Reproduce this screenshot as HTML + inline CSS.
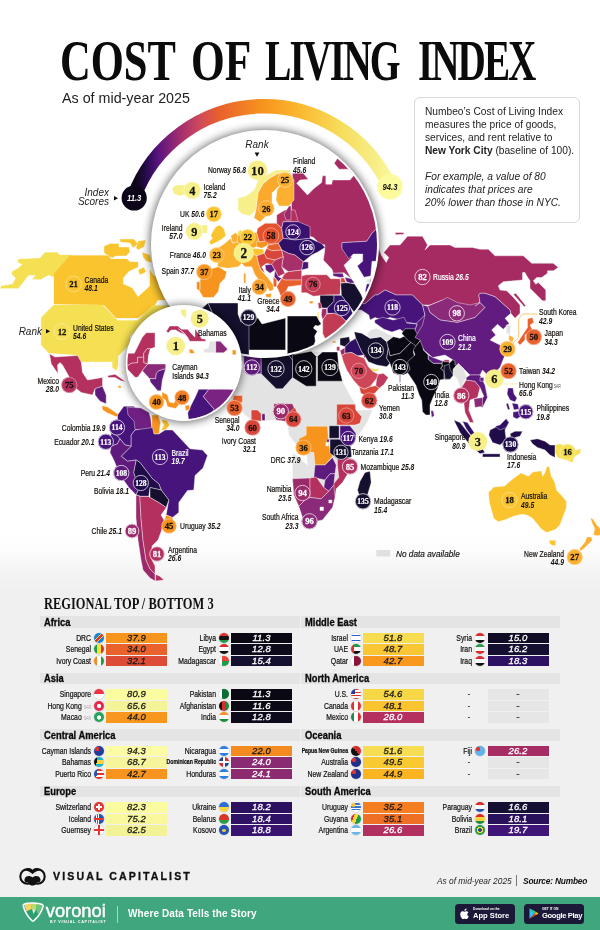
<!DOCTYPE html>
<html lang="en"><head><meta charset="utf-8"><title>Cost of Living Index</title>
<style>
html,body{margin:0;padding:0;}
body{width:600px;height:930px;overflow:hidden;background:#fff;font-family:"Liberation Sans",sans-serif;color:#111;}
#page{position:relative;width:600px;height:930px;overflow:hidden;background:linear-gradient(180deg,#ffffff 0px,#ffffff 530px,#fcfcfc 552px,#f4f4f4 572px,#f0f0f0 592px,#f0f0f0 930px);}
.abs{position:absolute;}
#title{position:absolute;left:0;top:29px;width:600px;height:64px;font-family:"Liberation Serif",serif;font-weight:bold;font-size:56px;line-height:64px;color:#0b0b0b;}
.tw{position:absolute;top:0;white-space:nowrap;transform-origin:0 0;display:block;}
#subtitle{position:absolute;left:62px;top:88.5px;font-size:14.3px;line-height:18px;color:#222;white-space:nowrap;}
#info{position:absolute;left:414px;top:97px;width:165.5px;height:125.5px;border:1px solid #d9d9d9;border-radius:6px;background:#fff;box-sizing:border-box;}
#info p{margin:0;position:absolute;left:10px;font-size:10.2px;line-height:13.2px;color:#222;white-space:nowrap;}
#tabletitle{position:absolute;left:44px;top:594px;font-family:"Liberation Serif",serif;font-weight:bold;font-size:16.5px;line-height:20px;white-space:nowrap;transform-origin:0 0;transform:scaleX(0.755);color:#111;}
.ghead{position:absolute;height:11.5px;background:#e4e4e4;}
.ghead span{position:absolute;left:4px;top:-0.2px;font-weight:bold;font-size:10.4px;line-height:13px;white-space:nowrap;color:#0a0a0a;-webkit-text-stroke:0.3px #0a0a0a;transform-origin:0 50%;transform:scaleX(0.9);}
.lab{position:absolute;height:10.5px;line-height:10.5px;font-size:8.8px;text-align:right;white-space:nowrap;color:#111;-webkit-text-stroke:0.22px #111;transform-origin:100% 50%;transform:scaleX(0.78);}
.lab.tiny{font-size:6.6px;font-weight:bold;}
.lab small{font-size:4.6px;color:#aaa;-webkit-text-stroke:0;}
.flag{position:absolute;width:10px;height:10px;border-radius:50%;box-shadow:0 0 0 0.5px rgba(0,0,0,0.15);}
.bar{position:absolute;height:10.5px;line-height:10.7px;font-size:9.5px;font-style:italic;font-weight:normal;text-align:center;-webkit-text-stroke:0.3px currentColor;letter-spacing:0.1px;}
#vc{position:absolute;left:53px;top:869px;font-weight:bold;font-size:10.6px;line-height:14px;letter-spacing:2.1px;-webkit-text-stroke:0.3px #111;white-space:nowrap;color:#111;}
#asof{position:absolute;left:437px;top:874px;font-size:8.35px;line-height:14px;white-space:nowrap;color:#222;}
#source{position:absolute;left:523px;top:874px;font-size:8.4px;line-height:14px;white-space:nowrap;color:#111;letter-spacing:-0.2px;}
#green{position:absolute;left:0;top:897px;width:600px;height:33px;background:#3fa67d;}
#voronoi{position:absolute;left:45.8px;top:898.8px;font-size:18.3px;line-height:24px;color:#fff;letter-spacing:0px;-webkit-text-stroke:0.45px #fff;white-space:nowrap;}
#byvc{position:absolute;left:50px;top:919px;font-size:3.7px;line-height:6px;font-weight:bold;color:#fff;letter-spacing:0.72px;white-space:nowrap;}
#tagline{position:absolute;left:128px;top:907px;font-size:10px;line-height:14px;font-weight:bold;color:#fff;white-space:nowrap;letter-spacing:0.1px;}
.badge{position:absolute;top:904px;height:19.5px;background:#1b1937;border-radius:3.5px;color:#fff;}
.badge .b1{position:absolute;top:2.6px;font-size:3.3px;line-height:5px;font-weight:bold;white-space:nowrap;}
.badge .b2{position:absolute;top:6.4px;font-size:7.6px;line-height:11px;font-weight:bold;white-space:nowrap;}

</style></head>
<body>
<div id="page">
<div id="title"><span class="tw" style="left:60.1px;transform:scaleX(0.76)">COST</span><span class="tw" style="left:191.3px;transform:scaleX(0.775)">OF</span><span class="tw" style="left:265.2px;transform:scaleX(0.707);letter-spacing:-2.7px">LIVING</span><span class="tw" style="left:417.5px;transform:scaleX(0.70);letter-spacing:-2.85px">INDEX</span></div>
<div id="subtitle">As of mid-year 2025</div>
<div id="info">
<p style="top:6.6px">Numbeo’s Cost of Living Index<br>measures the price of goods,<br>services, and rent relative to<br><b>New York City</b> (baseline of 100).</p>
<p style="top:72px"><i>For example, a value of 80<br>indicates that prices are<br>20% lower than those in NYC.</i></p>
</div>

<svg class="abs" id="map" style="left:0;top:0" width="600" height="600" viewBox="0 0 600 600">
<defs>
<linearGradient id="arcg" x1="128" y1="0" x2="396" y2="0" gradientUnits="userSpaceOnUse"><stop offset="0.03" stop-color="#0c0618"/><stop offset="0.07" stop-color="#2a0b50"/><stop offset="0.115" stop-color="#5b1580"/><stop offset="0.19" stop-color="#a02c70"/><stop offset="0.27" stop-color="#d04a5a"/><stop offset="0.34" stop-color="#e8602c"/><stop offset="0.5" stop-color="#f7931e"/><stop offset="0.64" stop-color="#fbb830"/><stop offset="0.79" stop-color="#f6dc5a"/><stop offset="0.925" stop-color="#f7ee88"/><stop offset="1" stop-color="#fbfb9e"/></linearGradient>
<clipPath id="clipE"><circle cx="265" cy="244" r="112"/></clipPath>
<clipPath id="clipC"><circle cx="183.75" cy="363" r="56.3"/></clipPath>
<filter id="sh" x="-30%" y="-30%" width="160%" height="160%"><feGaussianBlur stdDeviation="4.5"/></filter>
</defs>
<g stroke="#fff" stroke-width="0.4" stroke-linejoin="round">
<polygon points="0.8,286.3 12.5,284.2 15.8,278.3 11.7,273.7 12.5,271.3 18.3,268.3 22.5,264.2 18.3,262.5 18.3,259.2 40,258.3 45,252.5 57.5,252.5 59.7,255 71.7,255 54.2,276.7 48.3,275 40.8,279.2 32.5,279.2 35.8,275 28.3,275.3 23.3,282 18.3,288.3 0.8,288.3" fill="#f5df52" stroke="#f5df52" stroke-width="0.3"/>
<polygon points="54,274 70,255.6 110,255.6 110,259 127,259 130,262 138,262 138,267 129,271 123,278 123,284 132,288 138,297 150,286 150,270 154,276 178,276 178,300 158,300 154,306 138,318 116,318 104,305 54,304" fill="#f9c42e" stroke="#f9c42e" stroke-width="0.3"/>
<polygon points="104,246 110,243.6 119,243.6 119,247 129,247 130,252 126,256 116,256 112,258 104,253" fill="#f9c42e"/>
<polygon points="120,239 134,239 138,244 133,248 130,243 120,242" fill="#f9c42e"/>
<polygon points="138,241 146,240 144,247 138,250 136,248" fill="#f9c42e"/>
<polygon points="142,252 150,255 152,263 146,261 143,257" fill="#f9c42e"/>
<polygon points="138,270 144,267 146,272 140,275" fill="#f9c42e"/>
<polygon points="53.8,305 102.5,305 117.5,320.5 137.5,320.5 152.5,305.5 170,305.5 170,320 152.5,325 138.8,327.5 130,336.2 130,343.8 118,356.2 118,365 116.2,370.5 112.5,367.5 112.5,361.2 110,361.8 81.2,361.8 77.5,355 48.8,353 41.2,345 41.2,317.5" fill="#f5df52" stroke="#f5df52" stroke-width="0.3"/>
<polygon points="49.5,353.8 55,357 77.5,355.5 81.2,362 82.5,372.5 87.5,380 102.5,377.5 102.5,386.2 95,388.8 92.5,395 81.2,392.5 75,387.5 68.8,376.2 62.5,365 60,362.5 57.5,365 58,373.8 51.2,363.8" fill="#b3305f"/>
<polygon points="95,388.8 102.5,386.2 106.2,395 106.2,403.8 100,401.2 95,395" fill="#5e1b7d"/>
<polygon points="107.5,375.8 115,374.2 123.3,380 125.8,381.7 120.8,380.8 115,377.5 108.3,377.5" fill="#b3305f"/>
<polygon points="118,385.8 120.8,385.8 121.3,388 118.5,388" fill="#f7941e"/>
<polygon points="121.7,371.3 123.7,371.3 123.7,374 122.2,373.3" fill="#f7f08a"/>
<polygon points="102,405.5 107.5,407 115,412 119.2,415 116.2,416.8 107.5,413 102.5,410" fill="#f7941e"/>
<polygon points="117.5,415 123.8,406.2 133.8,406.2 140,412.5 140,427.5 135,430 131.2,435 131.2,446.2 125,445 120,438.8 112.5,431.2 117.5,422.5" fill="#46147a"/>
<polygon points="127,407 141,408 149,412.4 150.6,418 152,428 143,430 135,429.5 134,421 128,415" fill="#6f2082"/>
<polygon points="151.8,415 158,415 160.5,422.5 159,434 154,434 151.8,427.5" fill="#f7941e"/>
<polygon points="161,420 166.5,420 169.5,425 165.5,430 161,430 164,425" fill="#f9c42e"/>
<polygon points="131.2,435 135,430 152.5,427.5 154,434 159,434 165,430 172.5,430 190,448.8 202.5,450 207.5,455.5 203,468 195,475.5 193.8,490 187.5,490.5 178.8,502.5 178.8,512.5 172.5,517.5 166.2,515 168.8,500 161.2,490 158.8,483.8 152.5,478.8 140,462.5 136.2,460 127.5,461.2 121.2,456.2 131.2,446.2" fill="#46147a"/>
<polygon points="112.5,431.2 120,438.8 117.5,443.8 111.2,446.2 108.8,440" fill="#46147a"/>
<polygon points="111.2,446.2 117.5,443.8 120,438.8 125,445 131.2,446.2 121.2,456.2 127.5,461.2 136.2,460 133.8,472.5 138.8,488.8 136.2,495 128.8,487.5 120,475 113.8,460 110,452.5" fill="#5e1b7d"/>
<polygon points="136.2,460 140,462.5 152.5,478.8 158.8,483.8 161.2,490 150,487.5 148.8,496.2 140,496.2 136.2,495 138.8,488.8 133.8,472.5" fill="#1f0c48"/>
<polygon points="150,487.5 161.2,490 168.8,500 166.2,507.5 158.8,502.5 150,497.5" fill="#15102e"/>
<polygon points="166.2,515 172.5,517.5 173.8,522.5 167.5,526.2 163.8,521.2" fill="#f7941e"/>
<polygon points="136.2,495 140,496.2 141.2,500 141.2,501.2 140,501.2" fill="#9b2a6a"/>
<polygon points="136,495 140,496.5 140,500 141,518 143,540 146,560 150,569 155,574 155,581 150,578 143,570 141,560 138,540 136,518 136,500" fill="#9b2a6a"/>
<polygon points="140,496.5 148.7,496.5 150,497.5 158.7,502.5 166.2,507.5 166,508 161,515 164,520 161,532 158,540 152,546 151,558 155,566 155,574 150,569 146,560 143,540 141,518 140,500" fill="#b3305f"/>
<polygon points="155.6,574.4 159.4,576 164,580 155.6,581" fill="#b3305f"/>
<polygon points="243.8,355 288.8,355 311.2,351.2 322.5,352 337.5,352 338.8,367.5 342.5,381.2 350,395 356.2,405 355.8,410 371.8,410 374.2,406.8 371.8,411.8 366.8,423.2 360,433.2 355.8,438.2 350.8,445.8 350,457.5 350,470 342.5,482.5 336.2,488.8 335,497.5 332.5,507.5 322.5,520 310,522.5 302.5,517.5 298.8,506.2 293.8,495 292.5,478.8 292.5,452.5 307.5,465 306.2,450 297.5,446.2 288.8,435 287.5,425 285,421.2 273.8,420 261.2,421.2 251.2,420 245,415 237.5,407.5 232.5,401.2 230,395 230,383.8 235,375 243.8,367.5" fill="#e3e3e3"/>
<polygon points="243.8,355 261.2,355 261.2,373.8 252.5,373.8 243.8,367.5" fill="#5e1b7d"/>
<polygon points="261.2,355 288.8,355 292.5,360 292.5,377.5 282.5,388.8 276.2,388.8 261.2,373.8" fill="#15102e"/>
<polygon points="288.8,355 292.5,352.5 295,355 292.5,360" fill="#15102e"/>
<polygon points="292.5,355 311.2,351.2 316.2,356.2 316.2,386.2 306.2,386.2 292.5,377.5" fill="#0a0813"/>
<polygon points="317.5,356.2 322.5,352 337.5,352 338.8,367.5 342.5,381.2 317.5,381.2" fill="#0a0813"/>
<polygon points="233.8,395.5 242.5,395.5 242.5,402.5 232.5,401.2" fill="#e8602c"/>
<polygon points="251.2,410 257.5,410 261.2,413.8 261.2,421.2 251.2,420" fill="#d8453a"/>
<polygon points="262,413.8 265,413.8 265,420.5 262,420.5" fill="#5e1b7d"/>
<polygon points="273.8,403.8 292.5,403.8 295,410 285,421.2 276.2,420 273.8,412.5" fill="#9b2a6a"/>
<polygon points="288.8,412.5 295,407.5 300,420 295,427.5 287.5,425" fill="#d8453a"/>
<polygon points="336.7,404.2 355,404.2 355.8,410 361.7,416.7 360,423.3 355,425 336.7,425" fill="#d8453a"/>
<polygon points="306.2,426.2 327.5,426.2 328.8,445 332.5,456.2 325,465 315,465 313.8,452.5 306.2,451.2 298.8,447.5 298.8,438.8 306.2,435" fill="#f7941e"/>
<polygon points="329.2,425.8 339.2,425.8 339.2,438.3 329.2,438.3" fill="#15102e"/>
<polygon points="340,425.8 350,425.8 355.8,433.3 355.8,438.3 350.8,445.8 340,440" fill="#46147a"/>
<polygon points="330,439.2 339.2,439.2 350.8,446.7 351.7,456.7 343.3,460 335,456.7 330,453.3" fill="#15102e"/>
<polygon points="326.7,439.2 329.2,439.2 329.2,442 326.7,442" fill="#5e1b7d"/>
<polygon points="325.8,442.7 328.3,442.7 328.3,446 325.8,446" fill="#ffffff"/>
<polygon points="315,465 325,465 332.5,457.5 336.2,465 335,473.8 330,473.8 325,480 313.8,477.5" fill="#5e1b7d"/>
<polygon points="337.5,457.5 348.8,457.5 350,470 342.5,482.5 336.2,488.8 335,497.5 331.2,497.5 332.5,485 338.8,477.5 337.5,465" fill="#b3305f"/>
<polygon points="325,480 330,473.8 335,473.8 333.8,485 328.8,491.2 323.8,487.5" fill="#5e1b7d"/>
<polygon points="292.5,478.8 310,478 310,497.5 305,500 298.8,506.2 293.8,495" fill="#9b2a6a"/>
<polygon points="310,478 316.2,477 323.8,487.5 328.8,491.2 321.2,498.8 310,497.5" fill="#b3305f"/>
<polygon points="298.8,506.2 305,500 310,497.5 321.2,498.8 328.8,491.2 333.8,485 335,497.5 332.5,507.5 322.5,520 310,522.5 302.5,517.5" fill="#8b2a78"/>
<polygon points="320,507 323.5,507 323.5,510.5 320,510.5" fill="#ffffff"/>
<polygon points="328.8,500 331.8,500 331.8,503 328.8,503" fill="#ffffff"/>
<polygon points="365,472.5 370,471.2 371.2,482.5 367.5,495 360,497.5 357.5,490 360,481.2" fill="#15102e"/>
<polygon points="340,338.3 349.2,336.7 350,341.7 345,346.7 340,345" fill="#15102e"/>
<polygon points="336.7,346.7 339.7,346.7 339.7,350.8 336.7,350.8" fill="#b3305f"/>
<polygon points="332.5,341.3 335.8,341 335.7,342.7 332.7,343" fill="#f7941e"/>
<polygon points="340,350.8 345,347.5 345,353.3 341.7,355.8" fill="#9b2a6a"/>
<polygon points="345,346.7 350,341.7 355.8,338.3 361.7,351.7 364.2,355 357.5,355.8 351.7,352.5 345,353.3" fill="#2f1066"/>
<polygon points="363.7,355.3 365.8,355.8 365.3,358 363.7,357.5" fill="#b3305f"/>
<polygon points="341.7,355.8 345,353.3 351.7,352.5 357.5,355.8 364.2,358.3 368.3,366.7 373.3,371.7 378.3,374.2 376.7,378.3 370,386.7 364.2,389.2 359.2,386.7 353.3,380 346.7,370 343.3,361.7" fill="#cf4658"/>
<polygon points="354.2,331.7 361.7,333.3 370,338.3 380.8,336.7 386.7,341.7 388.3,348.3 386.7,358.3 390,363.3 386.7,366.7 376.7,365 368.3,361.7 364.2,355 361.7,351.7 355.8,338.3" fill="#15102e"/>
<polygon points="370,367.5 375,369.2 379.2,368.3 378.3,370.8 373.3,371.7" fill="#f5df52"/>
<polygon points="378.3,374.2 383.3,373.3 388.3,377.5 384.2,384.2 379.2,388.3 375.8,385.8 376.7,378.3" fill="#c03a60"/>
<polygon points="359.2,386.7 364.2,389.2 370,386.7 375.8,385.8 379.2,388.3 375,393.3 366.7,395.8 360.8,393.3" fill="#d8453a"/>
<polygon points="365,235 377.5,245 381.2,255 386.2,262.5 388.8,257.5 383.8,252.5 390,245 400,245 407.5,236.2 422.5,236.2 427.5,245 425,250 430,245 450,245 450,245 455,247.5 472.5,247.5 480,249.2 488.3,249.2 495,255.8 523.3,255.8 531.7,263.3 553.3,263.3 558.3,267.5 553.3,270.8 547.5,270.8 547.5,273.3 541.7,277.5 536.7,277.5 533.3,280.8 535.8,284.2 538.3,282.5 545.8,290 545.8,300.8 542.5,300.8 530,288.3 530,280.8 526.7,275.8 525,272.5 522.5,272.5 522.5,280 503.3,281.7 498.3,285.8 500,290 506.7,290.8 514.2,298.3 520,305 520,313.3 515,318.3 510.8,313.3 510,310 495,296.7 485,293.3 480,293.3 478.8,295 480,302.5 475,306.2 465,306.2 450,302.5 442.5,300 430,305 422.5,305 412.5,295 396.2,295 385,290 377.5,295 375,295 365,303.8 350,303.8 350,235" fill="#a62b62"/>
<polygon points="395,232.5 403.3,232.5 404.2,234.3 395.8,234.7" fill="#a62b62"/>
<polygon points="350,303.8 365,303.8 375,295 377.5,295 385,290 396.2,295 412.5,295 422.5,305 425,315 415,325 400,325 401.2,320 390,317.5 382.5,320 375,317.5 370,320 368.8,315 361.2,310 350,310" fill="#46147a"/>
<polygon points="427.5,306.2 442.5,300 447.5,297.5 457.5,302.5 470,305 480,302.5 485,307.5 475,317.5 457.5,322.5 440,320 430,312.5" fill="#8b2a78"/>
<polygon points="374.7,320 382.7,317.3 393.3,320 404,317.3 406.7,322.7 417.3,324 414.7,330.7 405.3,333.3 400,329.3 392,332 384,329.3 374.7,322.7" fill="#46147a"/>
<polygon points="370,330 376.7,328.3 386.7,333.3 393.3,336.7 386.7,341.7 380.8,336.7 370,338.3 366.7,334.2" fill="#e3e3e3"/>
<polygon points="406.7,322.7 416,323.5 425.1,314.7 425.9,324 425.3,332 417.3,337.3 406.7,334.7 405.3,333.3 414.7,330.7 417.3,324" fill="#5e1b7d"/>
<polygon points="386.7,341.7 393.3,336.7 400,338.3 406.7,335 413.3,340 406.7,346.7 400,353.3 390,355.8 388.3,348.3" fill="#0a0813"/>
<polygon points="390,355.8 400,353.3 406.7,346.7 413.3,340 418.3,345 413.3,351.7 415,358.3 410,368.3 410.8,371.7 403.3,375 393.3,373.3 390,363.3 386.7,358.3 388.3,348.3" fill="#0a0813"/>
<polygon points="415.8,345.8 420.8,340 423.3,343.3 423.3,350 428.3,355 428.3,359.2 433.3,363.3 441.7,363.3 442.5,365.8 440.8,368.3 444.2,371.7 444.2,379.2 450,379.2 453.3,375 453.3,369.2 458.3,363.3 455,357.5 449.2,363.3 449.2,360.8 443.3,360.8 441.7,363.3 442.5,365.8 440.8,368.3 444.2,371.7 444.2,379.2 440,380 437.5,388.3 433.3,396.7 430,405 430,415 425.8,415 422.5,411.7 421.7,400 419.2,395 415.8,385 407.5,372.5 410,369.2 407.5,361.7 415,355 413.3,350" fill="#0a0813"/>
<polygon points="401.7,333.3 405,328.7 414.2,328.7 420.8,340 415.8,345.8 407.5,340" fill="#0a0813"/>
<polygon points="430.8,410.8 433.3,410.8 434.2,415.8 431.7,417.5" fill="#5e1b7d"/>
<polygon points="428.3,355 433.3,357.5 441.7,360.8 443.3,360.8 441.7,363.3 433.3,363.3 428.3,359.2" fill="#5e1b7d"/>
<polygon points="444.2,359.8 449.2,359.8 449.2,361.7 444.2,361.7" fill="#b3305f"/>
<polygon points="444.2,365.8 449.2,364.2 450,369.2 453.3,375 450,379.2 445,379.2 444.2,371.7" fill="#15102e"/>
<polygon points="422.5,325 425,315 422.5,305 427.5,306.2 430,312.5 440,320 457.5,322.5 475,317.5 485,307.5 480,302.5 475,306.2 480,302.5 478.8,295 480,293.3 485,293.3 495,296.7 510,310 510.8,313.3 505,318.3 509.2,323.3 503.3,329.2 497.5,324.2 491.7,330 495.8,335 490,340 500,345 505,355 500,367.5 490,377.5 482.5,370 480,375 470,375 462.5,367.5 455,365 455,361.2 445,355 432.5,357.5 423.8,350 420,340 415,337.5" fill="#621c80"/>
<polygon points="453.3,369.2 458.3,363.3 463.3,368.3 466.7,376.7 463.3,383.3 466.7,393.3 464.2,396.7 460,386.7 456.7,378.3 453.3,375" fill="#e3e3e3"/>
<polygon points="460,390 466.2,380 475,381.2 480,387.5 477.5,397.5 470,400 468.8,410 473.8,422.5 470,422.5 465,412.5 463.8,402.5" fill="#b3305f"/>
<polygon points="470,375 480,375 485,385 487.5,397.5 482.5,407.5 477.5,405 483.8,396.2 480,387.5 475,381.2 466.2,380 466.2,377.5" fill="#5e1b7d"/>
<polygon points="473.8,398.8 482.5,397.5 482.5,406.2 475,407.5" fill="#8b2a78"/>
<polygon points="462.5,421.2 467.5,422.5 475,433.8 477.5,438.8 472.5,437.5 466.2,428.8" fill="#2f1066"/>
<polygon points="453.8,420 460,422.5 470,435 480,445 485,452.5 480,453.8 470,445 460,432.5" fill="#1f0c48"/>
<polygon points="490,430 500,425 506.2,418.8 508.8,422.5 505,430 506.2,440 500,445 492.5,442.5 488.8,435" fill="#1f0c48"/>
<polygon points="495,426.2 500,425 506.2,418.8 508.8,422.5 506.2,427.5 500,430" fill="#2f1066"/>
<polygon points="482.5,453.8 500,453.8 500,457 482.5,457" fill="#1f0c48"/>
<polygon points="508,388 513,388 514,394 517,398 515,402 510,400 507,394" fill="#46147a"/>
<polygon points="512,403 518,404 519,409 514,410" fill="#46147a"/>
<polygon points="513,412 519,411 521,416 517,419 513,417" fill="#46147a"/>
<polygon points="506,404 508,403 510,409 508,410" fill="#46147a"/>
<polygon points="480,377.5 483.8,377.5 483.8,381.2 480,381.2" fill="#621c80"/>
<polygon points="513.3,294.2 515.8,293.3 525.8,305.8 524.2,306.7" fill="#a62b62"/>
<polygon points="506.2,325 511.2,325 510,335 506.2,332.5" fill="#e3e3e3"/>
<polygon points="508.8,335 513.8,337.5 512.5,342.5 508.8,340" fill="#fbb030"/>
<polygon points="527.5,318.8 532.5,317.5 533.8,322.5 530,325 532.5,330 525,335 525,340 520,345 517.5,342.5 522.5,335 527.5,327.5" fill="#e8602c"/>
<polygon points="488.4,492.5 493.8,487.1 504.7,486 513.3,478.4 520.9,473 528.5,476.3 532.8,471.9 541.5,470.8 542.6,476.3 544.8,473 546.9,466.5 549.1,466.5 551.3,476.3 554.5,481.7 556.7,490.3 561,494.7 566.4,501.2 566.4,507.7 563.2,516.3 559.9,525 555.6,529.3 546.9,532.6 541.5,529.3 537.2,523.9 532.8,518.5 527.4,515.3 522,514.2 513.3,516.3 505.8,519.6 498.2,521.8 493.8,518.5 491.7,510.9 489.5,503.3" fill="#f9c42e"/>
<polygon points="549.1,540.2 555.6,540.2 555.6,545.6 552.3,545.6 549.7,543.4" fill="#f9c42e"/>
<polygon points="555,445 560,443.8 575,450 581.2,448.8 580,453.8 575,456.2 572.5,462.5 565,460 557.5,457.5 555,452.5" fill="#f5df52"/>
<polygon points="530,440 537.5,438.8 545,441.2 550,445 555,445 555,457.5 550,455 545,450 537.5,447.5 532.5,443.8" fill="#1f0c48"/>
<polygon points="510,433.8 515,431.2 522.5,431.2 520,436.2 515,437.5 516.2,443.8 512.5,443.8 511.2,437.5" fill="#1f0c48"/>
<polygon points="590.3,517.4 593.5,519.6 596.8,525 600,528.3 602.2,534.8 596.8,535.8 593.5,534.8 594.6,528.3 592.4,523.9" fill="#fbb030"/>
<polygon points="587,536.9 591.3,536.9 592.4,540.2 583.8,548.8 580.5,551 579.4,548.8 584.8,542.3" fill="#fbb030"/>
</g>
<path d="M 133.8 197.0 A 138.75 138.75 0 0 1 389.9 186.7" fill="none" stroke="url(#arcg)" stroke-width="14.5"/>
<circle cx="265" cy="244.5" r="115.5" fill="#000" opacity="0.55" filter="url(#sh)"/>
<circle cx="265" cy="244" r="114" fill="#fff"/>
<g clip-path="url(#clipE)"><g stroke="#fff" stroke-width="0.4" stroke-linejoin="round">
<polygon points="292.5,173.3 303.3,173.3 308.3,179.2 300,180 296.7,183.3 307.5,195 314.2,188.3 321.7,182.5 322.5,175.8 325.8,175.8 325.8,184.2 331.7,184.2 332.5,180 350,180 354.2,175 348.3,169.2 339.2,169.2 334.2,163.3 337.5,158.3 341.7,158.3 350,150 396.7,150 396.7,216.7 382.7,228 377.3,228 372,233.3 366.7,241.3 342,242.7 342,248.7 352,257.3 344,265.3 351.3,278.7 344,272.7 333.3,273.3 332,269.3 323.3,260 324.7,251.3 324.7,244.7 317.3,244.7 317.3,241.3 313.3,237.3 308,236 310,234 302,228 296,226 291,220" fill="#a62b62"/>
<polygon points="342,242.7 366.7,241.3 372,233.3 377.3,228 393.3,228 393.3,261.3 372,261.3 370.7,276 364,277.3 357.3,266 362.7,261.3 362.7,254 353.3,254 348.7,258.7 342,248.7" fill="#46147a"/>
<polygon points="332.7,273.3 342.7,273.3 344,277.3 340,277.6 333.3,276" fill="#621c80"/>
<polygon points="340.7,278 344,278 346,282.7 340.7,282.7" fill="#d8453a"/>
<polygon points="344.7,277.3 351.3,278.7 354.7,282.7 350.7,283.3 346.7,282" fill="#5e1b7d"/>
<polygon points="366.7,280 370.7,278.7 369.6,284 366.7,285.3" fill="#e3e3e3"/>
<polygon points="301.3,276 306.7,274.7 326.7,274.7 330.7,278.7 340,278.7 340.7,282.7 340,294.7 326.7,294.9 313.3,296.3 306.7,292.7 301.3,292.7" fill="#c23b55"/>
<polygon points="340.7,283.3 346,282.7 350.7,283.3 354.7,284 361.3,294.7 363.3,300 364.7,300 360.7,305.3 354,312 350,306.7 341.3,295.3 341.3,292.7" fill="#15102e"/>
<polygon points="370.7,278.7 380,277.3 380,300 366.7,300 365.3,290.7 366.7,284 369.6,284" fill="#46147a"/>
<polygon points="320,295.3 334,295.3 334,301.3 327.3,308 322,308 320,302.7" fill="#15102e"/>
<polygon points="334,295.3 341.3,295.3 350,306.7 352.7,313.3 346,321.3 340.7,316 334,313.3 327.3,313.3 327.3,308 334,301.3" fill="#2f1066"/>
<polygon points="318,302.7 320.7,302.7 322,308 318.7,308.7" fill="#b3305f"/>
<polygon points="317.3,312 318.8,312 318.8,318.7 317.7,318.7" fill="#f5df52"/>
<polygon points="322,308.7 326.7,308.7 326.7,314 322.7,320 321.3,314.7" fill="#a02c6a"/>
<polygon points="322.7,320 326.7,314 334,313.3 340.7,316 346,321.3 351.3,328 335.3,346.7 327.3,344 322.7,333.3" fill="#c23b55"/>
<polygon points="309.3,301.3 313.3,301.1 312.7,303.3 309.7,303.7" fill="#f7941e"/>
<polygon points="287.3,316 316.7,316 318.7,320 321.3,324 318,326 315.3,325.3 313.3,328 317.3,331.3 314.7,336 315.3,341.3 310,354.7 287.3,354.7" fill="#0a0813"/>
<polygon points="238,324 246,318 258,318 262,324 285.6,318 285.6,350 238,350" fill="#0a0813"/>
<polygon points="208,303 238,303 238,314 241,322 249,324 249,358 208,358 218,342 218,326" fill="#15102e"/>
<polygon points="182,326 208,303 218,326 218,342 208,358 182,358" fill="#15102e"/>
<polygon points="238,198 246,196 254,190 258,180 265,176 276,170 290,170 290,173 279,173 270,178 263,184 258,193 256,210 250,216 242,214 238,210" fill="#f7f08a"/>
<polygon points="263,184 270,178 279,173 281,184 272,193 272,203 266,208 266,216 260,222 254,218 256,210 258,193" fill="#fba92c"/>
<polygon points="279,173 290,173 294,180 294,200 289,206 279,206 276,200 277,190 281,184" fill="#fbb030"/>
<polygon points="172,188 176,185 185,185 186,194 180,196 174,194" fill="#f7f08a"/>
<polygon points="237.5,231.7 240.8,229.7 243.7,233.3 242.5,235.8 237.5,235.3" fill="#f5df52"/>
<polygon points="211.7,233.3 215.8,226.7 220,225 224.2,229.2 225.8,235.8 221.7,239.2 217.5,241.7 210.8,245 209.2,241.7 212.5,238.3 210.8,235.8" fill="#f9c42e"/>
<polygon points="201.7,225 207.5,225 207.5,233.3 201.7,233.3" fill="#f7f08a"/>
<polygon points="230.8,235.8 235.8,232.5 238.3,235.8 237.5,241.7 232.5,243.3" fill="#fbb030"/>
<polygon points="237.5,235.8 243.3,233.3 256.7,232.5 259.2,241.7 256.7,246.7 251.7,248.3 240.8,245.8 237.5,241.7" fill="#f9a828"/>
<polygon points="217.5,248.3 225,243.3 230.8,238.3 232.5,243.3 237.5,241.7 240.8,245.8 240,255 241.7,263.3 238.3,266.7 227.5,268.3 217.5,266.7 218.3,256.7" fill="#fbb030"/>
<polygon points="251.7,248.3 263.3,249.2 264.2,253.3 256.7,255.8 251.7,253.3" fill="#f9c42e"/>
<polygon points="256.7,241.7 259.2,241.7 266.7,240.8 268.3,245 261.7,248.3 256.7,246.7" fill="#f7941e"/>
<polygon points="257.5,228.3 265,223.3 276.7,223.3 281.7,228.3 283.3,238.3 278.3,243.3 268.3,245 266.7,240.8 259.2,241.7 256.7,232.5" fill="#e5532e"/>
<polygon points="276.7,215 285,210 295,210 298.3,221.7 283.3,221.7 281.7,228.3 276.7,223.3" fill="#b3305f"/>
<polygon points="289,206 291,206 291,220 286,220 284,214" fill="#9b2a6a"/>
<polygon points="281.7,228.3 283.3,221.7 298.3,221.7 310,226.7 310,238.3 295,240 283.3,238.3" fill="#3a1070"/>
<polygon points="278.3,243.3 283.3,238.3 295,240 310,238.3 321.7,243.7 325,247.5 318.3,251.7 311.7,255 303.3,261.7 295,255 288.3,253.3 281.7,250" fill="#2f1066"/>
<polygon points="268.3,245 278.3,243.3 281.7,250 271.7,250.8 266.7,248.3" fill="#e8602c"/>
<polygon points="264.2,253.3 266.7,248.3 271.7,250.8 281.7,250 283.3,256.7 275,260 266.7,258.3" fill="#d8453a"/>
<polygon points="283.3,256.7 281.7,250 288.3,253.3 295,255 303.3,261.7 301.7,270 288.3,271.7 281.7,266.7" fill="#a8306a"/>
<polygon points="303.3,261.7 308.3,262 308.3,268.3 301.7,270" fill="#46147a"/>
<polygon points="256.7,255.8 264.2,253.3 266.7,258.3 275,260 273.3,265 266.7,263.3 261.7,266.7 265,273.3 260.8,270 258.3,263.3" fill="#d8453a"/>
<polygon points="265,265 271.7,264.2 275,270 270,273.3 265.8,270" fill="#621c80"/>
<polygon points="275,260 283.3,256.7 281.7,266.7 285,273.3 278.3,276.7 275,270 271.7,264.2" fill="#b3305f"/>
<polygon points="275,270 278.3,276.7 281.7,278.3 278.3,281.7 274.2,276.7" fill="#5e1b7d"/>
<polygon points="273.3,276.7 276.7,280 276.7,286.7 273.3,286.7" fill="#e8602c"/>
<polygon points="285,273.3 288.3,271.7 301.7,270 301.7,280 285,280 281.7,278.3" fill="#c23b55"/>
<polygon points="276.7,286.7 281.7,278.3 285,280 301.7,280 301.7,285 288.3,286.7 285,293.3 288.3,300 281.7,298.3 278.3,290" fill="#e8602c"/>
<polygon points="241.7,263.3 251.7,253.3 256.7,255.8 258.3,263.3 260.8,270 268.3,278.3 273.3,285 273.3,290 270,291.3 266.7,286.7 261.7,283.3 255,275 251.7,266.7 245,266.7" fill="#f9a02a"/>
<polygon points="243.7,273.3 245.8,273.3 245.8,283.3 243.7,283.3" fill="#f9a02a"/>
<polygon points="265,294.2 271.7,293.3 270.8,297.5 266.7,297.5" fill="#f9a02a"/>
<polygon points="200,281.7 200.8,277.5 200,270 213.3,268.3 218.3,266.7 226.7,271.7 225,278.3 220,283.3 218.3,291.7 213.3,297.5 203.3,297.5 199.2,290.8 200,290" fill="#f7941e"/>
<polygon points="196.7,281.7 199.8,281.7 199.8,290 199,290.8 196.7,288.3" fill="#f38a20"/>
</g></g>
<circle cx="183.75" cy="363.5" r="59" fill="#000" opacity="0.55" filter="url(#sh)"/>
<circle cx="183.75" cy="363" r="58" fill="#fff"/>
<g clip-path="url(#clipC)"><g stroke="#fff" stroke-width="0.4" stroke-linejoin="round">
<polygon points="125.7,353.3 134.3,353.3 142.3,337.3 146.3,332.7 155,332.7 155,347.3 150.3,348.7 147,348.7 143.7,353.3 143.7,357.3 137.7,357.3 137.7,362.7 131,363.3 125.7,367.3" fill="#b3305f"/>
<polygon points="147,348.7 150.3,348.7 148.3,356 147.7,364 143.7,362.7 143.7,353.3" fill="#b3305f"/>
<polygon points="131,363.3 137.7,362.7 137.7,357.3 143.7,357.3 143.7,362.7 147.7,364 142.3,370.7 137.7,377.3 135,377.3 125.7,367.3" fill="#b02f60"/>
<polygon points="147.7,364 165.7,364 165.7,368.7 159,370.7 156.3,373.3 155.7,378.7 149.7,378.7 142.3,370.7" fill="#8b2a78"/>
<polygon points="159,370.7 165.7,368.7 162.3,380 161,390.7 157.7,390.7 150.3,382 149.7,378.7 155.7,378.7 156.3,373.3" fill="#5e1b7d"/>
<polygon points="166.3,331.3 169.7,326 177.7,326 181.7,329.3 187.7,329.3 191,333.3 195,337.3 195,328.7 198.3,333.3 201.7,338.7 205.7,339.3 205.7,341.3 195,341.3 189.7,341.3 187.7,337.3 183,332 178.3,328.7 185.7,334.7 180.3,332.7 175.7,330 171,330 168.3,332.7" fill="#b3305f"/>
<polygon points="180.3,309.3 186.3,309.3 186.3,318.7 183,316 181,313.3" fill="#f7f08a"/>
<polygon points="189,349.3 192.3,349.3 195,353.3 189.7,353.3" fill="#f7941e"/>
<polygon points="209.7,341.3 215,341.3 215,352.7 203.7,352.7 203.7,349.3 208.3,348" fill="#e3e3e3"/>
<polygon points="215.7,341.3 220.3,341.3 227.7,349.3 223.7,352.7 215.7,352.7" fill="#8b2a78"/>
<polygon points="232.3,350 235.7,350 236.3,354.7 232.3,354.7" fill="#f7941e"/>
<polygon points="198.7,389.3 208.8,389.3 203.3,396.6 214.3,409.4 209.7,414.9 195,418.6 188.6,419.5 187.7,413.1 191.3,404.8 195,397.5" fill="#46147a"/>
<polygon points="208.8,389.3 228,389.3 242.7,390.2 242.7,406.7 226.2,417.7 209.7,414.9 214.3,409.4 203.3,396.6" fill="#7a2383"/>
<polygon points="162,392 167.5,394.8 169.3,402.1 173.9,403 175.8,399.3 179.4,403.9 175.8,408.5 171.2,407.6 167.5,406.7 165.7,400.3 162,397.5" fill="#f7941e"/>
<polygon points="184.9,405.8 189.1,404.8 189.9,409.4 185.8,410.7" fill="#f7941e"/>
</g></g>
<circle cx="257.5" cy="170.3" r="9.8" fill="#f7f08a"/><text transform="translate(257.5,174.82) scale(0.95,1)" text-anchor="middle" font-family="Liberation Serif, serif" font-weight="bold" font-size="13.5" fill="#15110d" stroke="#15110d" stroke-width="0.25">10</text>
<g transform="translate(246,173.08) scale(0.77,1)" font-family="Liberation Sans, sans-serif" font-size="8.8" fill="#15110d" stroke="#15110d" stroke-width="0.22" text-anchor="end"><text x="0" y="0">Norway <tspan font-style="italic" font-weight="bold" stroke="none">56.8</tspan></text></g>
<circle cx="192.2" cy="190.3" r="8.7" fill="#f7f08a"/><circle cx="192.2" cy="190.3" r="8.35" fill="none" stroke="rgba(255,255,255,0.55)" stroke-width="0.7"/><text transform="translate(192.2,194.66) scale(0.95,1)" text-anchor="middle" font-family="Liberation Serif, serif" font-weight="bold" font-size="13" fill="#15110d" stroke="#15110d" stroke-width="0.25">4</text>
<g transform="translate(203.5,189.58) scale(0.77,1)" font-family="Liberation Sans, sans-serif" font-size="8.8" fill="#15110d" stroke="#15110d" stroke-width="0.22" text-anchor="start"><text x="0" y="0">Iceland</text><text x="0" y="8.8" font-style="italic" font-weight="bold" stroke="none">75.2</text></g>
<circle cx="213.8" cy="214.2" r="7.9" fill="#f9c42e"/><circle cx="213.8" cy="214.2" r="7.550000000000001" fill="none" stroke="rgba(255,255,255,0.55)" stroke-width="0.7"/><text transform="translate(213.8,217.18) scale(0.95,1)" text-anchor="middle" font-family="Liberation Serif, serif" font-weight="bold" font-size="8.9" fill="#15110d" stroke="#15110d" stroke-width="0.25">17</text>
<g transform="translate(204.5,217.08) scale(0.77,1)" font-family="Liberation Sans, sans-serif" font-size="8.8" fill="#15110d" stroke="#15110d" stroke-width="0.22" text-anchor="end"><text x="0" y="0">UK <tspan font-style="italic" font-weight="bold" stroke="none">50.6</tspan></text></g>
<circle cx="194.2" cy="231.3" r="8.7" fill="#f7f08a"/><circle cx="194.2" cy="231.3" r="8.35" fill="none" stroke="rgba(255,255,255,0.55)" stroke-width="0.7"/><text transform="translate(194.2,235.66) scale(0.95,1)" text-anchor="middle" font-family="Liberation Serif, serif" font-weight="bold" font-size="13" fill="#15110d" stroke="#15110d" stroke-width="0.25">9</text>
<g transform="translate(182.5,230.58) scale(0.77,1)" font-family="Liberation Sans, sans-serif" font-size="8.8" fill="#15110d" stroke="#15110d" stroke-width="0.22" text-anchor="end"><text x="0" y="0">Ireland</text><text x="0" y="8.8" font-style="italic" font-weight="bold" stroke="none">57.0</text></g>
<circle cx="285" cy="180" r="7.8" fill="#fbb030"/><circle cx="285" cy="180" r="7.45" fill="none" stroke="rgba(255,255,255,0.55)" stroke-width="0.7"/><text transform="translate(285,182.98) scale(0.95,1)" text-anchor="middle" font-family="Liberation Serif, serif" font-weight="bold" font-size="8.9" fill="#15110d" stroke="#15110d" stroke-width="0.25">25</text>
<g transform="translate(293,164.08) scale(0.77,1)" font-family="Liberation Sans, sans-serif" font-size="8.8" fill="#15110d" stroke="#15110d" stroke-width="0.22" text-anchor="start"><text x="0" y="0">Finland</text><text x="0" y="8.8" font-style="italic" font-weight="bold" stroke="none">45.6</text></g>
<circle cx="266.3" cy="208.5" r="8.1" fill="#fba92c"/><circle cx="266.3" cy="208.5" r="7.75" fill="none" stroke="rgba(255,255,255,0.55)" stroke-width="0.7"/><text transform="translate(266.3,211.51) scale(0.95,1)" text-anchor="middle" font-family="Liberation Serif, serif" font-weight="bold" font-size="9" fill="#15110d" stroke="#15110d" stroke-width="0.25">26</text>
<circle cx="247.7" cy="237" r="7.8" fill="#f9c42e"/><circle cx="247.7" cy="237" r="7.45" fill="none" stroke="rgba(255,255,255,0.55)" stroke-width="0.7"/><text transform="translate(247.7,239.98) scale(0.95,1)" text-anchor="middle" font-family="Liberation Serif, serif" font-weight="bold" font-size="8.9" fill="#15110d" stroke="#15110d" stroke-width="0.25">22</text>
<circle cx="271" cy="235.7" r="8.2" fill="#e5532e"/><circle cx="271" cy="235.7" r="7.85" fill="none" stroke="rgba(255,255,255,0.55)" stroke-width="0.7"/><text transform="translate(271,238.82) scale(0.95,1)" text-anchor="middle" font-family="Liberation Serif, serif" font-weight="bold" font-size="9.3" fill="#15110d" stroke="#15110d" stroke-width="0.25">58</text>
<circle cx="293" cy="232" r="7.6" fill="#3a1070"/><circle cx="293" cy="232" r="7.25" fill="none" stroke="#fff" stroke-width="0.7"/><text transform="translate(293,234.88) scale(0.88,1)" text-anchor="middle" font-family="Liberation Serif, serif" font-weight="bold" font-size="8.6" fill="#ffffff" stroke="#ffffff" stroke-width="0.25">124</text>
<circle cx="307" cy="247.6" r="7.6" fill="#2f1066"/><circle cx="307" cy="247.6" r="7.25" fill="none" stroke="#fff" stroke-width="0.7"/><text transform="translate(307,250.48) scale(0.88,1)" text-anchor="middle" font-family="Liberation Serif, serif" font-weight="bold" font-size="8.6" fill="#ffffff" stroke="#ffffff" stroke-width="0.25">126</text>
<circle cx="243.7" cy="252.9" r="10.2" fill="#f7f08a"/><text transform="translate(243.7,257.59) scale(0.95,1)" text-anchor="middle" font-family="Liberation Serif, serif" font-weight="bold" font-size="14" fill="#15110d" stroke="#15110d" stroke-width="0.25">2</text>
<circle cx="216.8" cy="255" r="7.7" fill="#fbb030"/><circle cx="216.8" cy="255" r="7.3500000000000005" fill="none" stroke="rgba(255,255,255,0.55)" stroke-width="0.7"/><text transform="translate(216.8,257.98) scale(0.95,1)" text-anchor="middle" font-family="Liberation Serif, serif" font-weight="bold" font-size="8.9" fill="#15110d" stroke="#15110d" stroke-width="0.25">23</text>
<g transform="translate(206,258.08) scale(0.77,1)" font-family="Liberation Sans, sans-serif" font-size="8.8" fill="#15110d" stroke="#15110d" stroke-width="0.22" text-anchor="end"><text x="0" y="0">France <tspan font-style="italic" font-weight="bold" stroke="none">46.0</tspan></text></g>
<circle cx="204.3" cy="272" r="8" fill="#f7941e"/><circle cx="204.3" cy="272" r="7.65" fill="none" stroke="rgba(255,255,255,0.55)" stroke-width="0.7"/><text transform="translate(204.3,274.95) scale(0.95,1)" text-anchor="middle" font-family="Liberation Serif, serif" font-weight="bold" font-size="8.8" fill="#15110d" stroke="#15110d" stroke-width="0.25">37</text>
<g transform="translate(194,274.48) scale(0.77,1)" font-family="Liberation Sans, sans-serif" font-size="8.8" fill="#15110d" stroke="#15110d" stroke-width="0.22" text-anchor="end"><text x="0" y="0">Spain <tspan font-style="italic" font-weight="bold" stroke="none">37.7</tspan></text></g>
<circle cx="259.5" cy="287" r="7.9" fill="#f9a02a"/><circle cx="259.5" cy="287" r="7.550000000000001" fill="none" stroke="rgba(255,255,255,0.55)" stroke-width="0.7"/><text transform="translate(259.5,290.08) scale(0.95,1)" text-anchor="middle" font-family="Liberation Serif, serif" font-weight="bold" font-size="9.2" fill="#15110d" stroke="#15110d" stroke-width="0.25">34</text>
<g transform="translate(251,293.08) scale(0.77,1)" font-family="Liberation Sans, sans-serif" font-size="8.8" fill="#15110d" stroke="#15110d" stroke-width="0.22" text-anchor="end"><text x="0" y="0">Italy</text><text x="0" y="8.2" font-style="italic" font-weight="bold" stroke="none">41.1</text></g>
<circle cx="288" cy="299" r="7.9" fill="#e8602c"/><circle cx="288" cy="299" r="7.550000000000001" fill="none" stroke="rgba(255,255,255,0.55)" stroke-width="0.7"/><text transform="translate(288,302.08) scale(0.95,1)" text-anchor="middle" font-family="Liberation Serif, serif" font-weight="bold" font-size="9.2" fill="#15110d" stroke="#15110d" stroke-width="0.25">49</text>
<g transform="translate(279.5,304.08) scale(0.77,1)" font-family="Liberation Sans, sans-serif" font-size="8.8" fill="#15110d" stroke="#15110d" stroke-width="0.22" text-anchor="end"><text x="0" y="0">Greece</text><text x="0" y="8.2" font-style="italic" font-weight="bold" stroke="none">34.4</text></g>
<circle cx="313" cy="284.4" r="7.6" fill="#c23b55"/><circle cx="313" cy="284.4" r="7.25" fill="none" stroke="rgba(255,255,255,0.55)" stroke-width="0.7"/><text transform="translate(313,287.48) scale(0.95,1)" text-anchor="middle" font-family="Liberation Serif, serif" font-weight="bold" font-size="9.2" fill="#15110d" stroke="#15110d" stroke-width="0.25">76</text>
<circle cx="342" cy="308" r="8" fill="#2f1066"/><circle cx="342" cy="308" r="7.65" fill="none" stroke="#fff" stroke-width="0.7"/><text transform="translate(342,310.88) scale(0.88,1)" text-anchor="middle" font-family="Liberation Serif, serif" font-weight="bold" font-size="8.6" fill="#ffffff" stroke="#ffffff" stroke-width="0.25">125</text>
<circle cx="248.5" cy="317.5" r="8.2" fill="#15102e"/><circle cx="248.5" cy="317.5" r="7.85" fill="none" stroke="#fff" stroke-width="0.7"/><text transform="translate(248.5,320.38) scale(0.88,1)" text-anchor="middle" font-family="Liberation Serif, serif" font-weight="bold" font-size="8.6" fill="#ffffff" stroke="#ffffff" stroke-width="0.25">129</text>
<text x="257" y="147.5" text-anchor="middle" font-family="Liberation Sans, sans-serif" font-style="italic" font-size="10" fill="#222">Rank</text>
<path d="M254.6 152.5 L259.4 152.5 L257 156.8 Z" fill="#111"/>
<text x="109" y="195.6" text-anchor="end" font-family="Liberation Sans, sans-serif" font-style="italic" font-size="10" fill="#222">Index</text>
<text x="109" y="205.3" text-anchor="end" font-family="Liberation Sans, sans-serif" font-style="italic" font-size="10" fill="#222">Scores</text>
<path d="M114 196 L114 200.6 L118 198.3 Z" fill="#111"/>
<circle cx="134.2" cy="198" r="12.6" fill="#0c0618"/>
<text transform="translate(134.2,201.2) scale(0.85,1)" text-anchor="middle" font-family="Liberation Sans, sans-serif" font-style="italic" font-weight="bold" font-size="9" fill="#fff">11.3</text>
<circle cx="390" cy="186.7" r="12.7" fill="#fbfb9e"/>
<text transform="translate(390,189.8) scale(0.85,1)" text-anchor="middle" font-family="Liberation Sans, sans-serif" font-style="italic" font-weight="bold" font-size="9" fill="#1a1410">94.3</text>
<circle cx="199.7" cy="318.7" r="9" fill="#f7f08a"/><text transform="translate(199.7,323.06) scale(0.95,1)" text-anchor="middle" font-family="Liberation Serif, serif" font-weight="bold" font-size="13" fill="#15110d" stroke="#15110d" stroke-width="0.25">5</text>
<g transform="translate(198,336.08) scale(0.77,1)" font-family="Liberation Sans, sans-serif" font-size="8.8" fill="#15110d" stroke="#15110d" stroke-width="0.22" text-anchor="start"><text x="0" y="0">Bahamas</text></g>
<circle cx="175.7" cy="346" r="9.3" fill="#f7f08a"/><text transform="translate(175.7,350.36) scale(0.95,1)" text-anchor="middle" font-family="Liberation Serif, serif" font-weight="bold" font-size="13" fill="#15110d" stroke="#15110d" stroke-width="0.25">1</text>
<g transform="translate(172.3,369.58) scale(0.77,1)" font-family="Liberation Sans, sans-serif" font-size="8.8" fill="#15110d" stroke="#15110d" stroke-width="0.22" text-anchor="start"><text x="0" y="0">Cayman</text></g>
<g transform="translate(172.3,379.08) scale(0.77,1)" font-family="Liberation Sans, sans-serif" font-size="8.8" fill="#15110d" stroke="#15110d" stroke-width="0.22" text-anchor="start"><text x="0" y="0">Islands <tspan font-style="italic" font-weight="bold" stroke="none">94.3</tspan></text></g>
<circle cx="156.5" cy="402" r="7.7" fill="#f7941e"/><circle cx="156.5" cy="402" r="7.3500000000000005" fill="none" stroke="rgba(255,255,255,0.55)" stroke-width="0.7"/><text transform="translate(156.5,405.08) scale(0.95,1)" text-anchor="middle" font-family="Liberation Serif, serif" font-weight="bold" font-size="9.2" fill="#15110d" stroke="#15110d" stroke-width="0.25">40</text>
<circle cx="182" cy="397.5" r="7.5" fill="#f47e20"/><circle cx="182" cy="397.5" r="7.15" fill="none" stroke="rgba(255,255,255,0.55)" stroke-width="0.7"/><text transform="translate(182,400.58) scale(0.95,1)" text-anchor="middle" font-family="Liberation Serif, serif" font-weight="bold" font-size="9.2" fill="#15110d" stroke="#15110d" stroke-width="0.25">48</text>
<circle cx="73.6" cy="284" r="8.2" fill="#f9c42e"/><circle cx="73.6" cy="284" r="7.85" fill="none" stroke="rgba(255,255,255,0.55)" stroke-width="0.7"/><text transform="translate(73.6,287.08) scale(0.95,1)" text-anchor="middle" font-family="Liberation Serif, serif" font-weight="bold" font-size="9.2" fill="#15110d" stroke="#15110d" stroke-width="0.25">21</text>
<g transform="translate(84.5,282.58) scale(0.77,1)" font-family="Liberation Sans, sans-serif" font-size="8.8" fill="#15110d" stroke="#15110d" stroke-width="0.22" text-anchor="start"><text x="0" y="0">Canada</text><text x="0" y="8.8" font-style="italic" font-weight="bold" stroke="none">48.1</text></g>
<circle cx="62" cy="331.5" r="8.3" fill="#f5df52"/><circle cx="62" cy="331.5" r="7.950000000000001" fill="none" stroke="rgba(255,255,255,0.55)" stroke-width="0.7"/><text transform="translate(62,334.58) scale(0.95,1)" text-anchor="middle" font-family="Liberation Serif, serif" font-weight="bold" font-size="9.2" fill="#15110d" stroke="#15110d" stroke-width="0.25">12</text>
<g transform="translate(73,330.58) scale(0.77,1)" font-family="Liberation Sans, sans-serif" font-size="8.8" fill="#15110d" stroke="#15110d" stroke-width="0.22" text-anchor="start"><text x="0" y="0">United States</text><text x="0" y="8.8" font-style="italic" font-weight="bold" stroke="none">54.6</text></g>
<text x="42" y="334.7" text-anchor="end" font-family="Liberation Sans, sans-serif" font-style="italic" font-size="10" fill="#222">Rank</text>
<path d="M46 329 L46 333.6 L50.1 331.3 Z" fill="#111"/>
<circle cx="69.3" cy="385" r="8" fill="#b3305f"/><circle cx="69.3" cy="385" r="7.65" fill="none" stroke="rgba(255,255,255,0.55)" stroke-width="0.7"/><text transform="translate(69.3,388.08) scale(0.95,1)" text-anchor="middle" font-family="Liberation Serif, serif" font-weight="bold" font-size="9.2" fill="#15110d" stroke="#15110d" stroke-width="0.25">75</text>
<g transform="translate(59,383.58) scale(0.77,1)" font-family="Liberation Sans, sans-serif" font-size="8.8" fill="#15110d" stroke="#15110d" stroke-width="0.22" text-anchor="end"><text x="0" y="0">Mexico</text><text x="0" y="8.8" font-style="italic" font-weight="bold" stroke="none">28.0</text></g>
<circle cx="117" cy="427.5" r="8" fill="#46147a"/><circle cx="117" cy="427.5" r="7.65" fill="none" stroke="#fff" stroke-width="0.7"/><text transform="translate(117,430.38) scale(0.88,1)" text-anchor="middle" font-family="Liberation Serif, serif" font-weight="bold" font-size="8.6" fill="#ffffff" stroke="#ffffff" stroke-width="0.25">114</text>
<g transform="translate(105.5,430.58) scale(0.77,1)" font-family="Liberation Sans, sans-serif" font-size="8.8" fill="#15110d" stroke="#15110d" stroke-width="0.22" text-anchor="end"><text x="0" y="0">Colombia <tspan font-style="italic" font-weight="bold" stroke="none">19.9</tspan></text></g>
<circle cx="105.8" cy="441.8" r="8" fill="#46147a"/><circle cx="105.8" cy="441.8" r="7.65" fill="none" stroke="#fff" stroke-width="0.7"/><text transform="translate(105.8,444.68) scale(0.88,1)" text-anchor="middle" font-family="Liberation Serif, serif" font-weight="bold" font-size="8.6" fill="#ffffff" stroke="#ffffff" stroke-width="0.25">113</text>
<g transform="translate(94.5,444.88) scale(0.77,1)" font-family="Liberation Sans, sans-serif" font-size="8.8" fill="#15110d" stroke="#15110d" stroke-width="0.22" text-anchor="end"><text x="0" y="0">Ecuador <tspan font-style="italic" font-weight="bold" stroke="none">20.1</tspan></text></g>
<circle cx="160" cy="457" r="8" fill="#46147a"/><circle cx="160" cy="457" r="7.65" fill="none" stroke="#fff" stroke-width="0.7"/><text transform="translate(160,459.88) scale(0.88,1)" text-anchor="middle" font-family="Liberation Serif, serif" font-weight="bold" font-size="8.6" fill="#ffffff" stroke="#ffffff" stroke-width="0.25">113</text>
<g transform="translate(171.5,455.58) scale(0.77,1)" font-family="Liberation Sans, sans-serif" font-size="8.8" fill="#ffffff" stroke="#ffffff" stroke-width="0.22" text-anchor="start"><text x="0" y="0">Brazil</text><text x="0" y="8.8" font-style="italic" font-weight="bold" stroke="none">19.7</text></g>
<circle cx="121.3" cy="473" r="8" fill="#5e1b7d"/><circle cx="121.3" cy="473" r="7.65" fill="none" stroke="#fff" stroke-width="0.7"/><text transform="translate(121.3,475.88) scale(0.88,1)" text-anchor="middle" font-family="Liberation Serif, serif" font-weight="bold" font-size="8.6" fill="#ffffff" stroke="#ffffff" stroke-width="0.25">108</text>
<g transform="translate(110,476.08) scale(0.77,1)" font-family="Liberation Sans, sans-serif" font-size="8.8" fill="#15110d" stroke="#15110d" stroke-width="0.22" text-anchor="end"><text x="0" y="0">Peru <tspan font-style="italic" font-weight="bold" stroke="none">21.4</tspan></text></g>
<circle cx="140.8" cy="483" r="8" fill="#1f0c48"/><circle cx="140.8" cy="483" r="7.65" fill="none" stroke="#fff" stroke-width="0.7"/><text transform="translate(140.8,485.88) scale(0.88,1)" text-anchor="middle" font-family="Liberation Serif, serif" font-weight="bold" font-size="8.6" fill="#ffffff" stroke="#ffffff" stroke-width="0.25">128</text>
<g transform="translate(129,494.08) scale(0.77,1)" font-family="Liberation Sans, sans-serif" font-size="8.8" fill="#15110d" stroke="#15110d" stroke-width="0.22" text-anchor="end"><text x="0" y="0">Bolivia <tspan font-style="italic" font-weight="bold" stroke="none">18.1</tspan></text></g>
<circle cx="132" cy="531" r="7.2" fill="#9b2a6a"/><circle cx="132" cy="531" r="6.8500000000000005" fill="none" stroke="#fff" stroke-width="0.7"/><text transform="translate(132,534.08) scale(0.95,1)" text-anchor="middle" font-family="Liberation Serif, serif" font-weight="bold" font-size="9.2" fill="#ffffff" stroke="#ffffff" stroke-width="0.25">89</text>
<g transform="translate(122,534.08) scale(0.77,1)" font-family="Liberation Sans, sans-serif" font-size="8.8" fill="#15110d" stroke="#15110d" stroke-width="0.22" text-anchor="end"><text x="0" y="0">Chile <tspan font-style="italic" font-weight="bold" stroke="none">25.1</tspan></text></g>
<circle cx="169" cy="526" r="7.6" fill="#f7941e"/><circle cx="169" cy="526" r="7.25" fill="none" stroke="rgba(255,255,255,0.55)" stroke-width="0.7"/><text transform="translate(169,529.08) scale(0.95,1)" text-anchor="middle" font-family="Liberation Serif, serif" font-weight="bold" font-size="9.2" fill="#15110d" stroke="#15110d" stroke-width="0.25">45</text>
<g transform="translate(180,529.08) scale(0.77,1)" font-family="Liberation Sans, sans-serif" font-size="8.8" fill="#15110d" stroke="#15110d" stroke-width="0.22" text-anchor="start"><text x="0" y="0">Uruguay <tspan font-style="italic" font-weight="bold" stroke="none">35.2</tspan></text></g>
<circle cx="157" cy="554" r="7.6" fill="#b3305f"/><circle cx="157" cy="554" r="7.25" fill="none" stroke="#fff" stroke-width="0.7"/><text transform="translate(157,557.08) scale(0.95,1)" text-anchor="middle" font-family="Liberation Serif, serif" font-weight="bold" font-size="9.2" fill="#ffffff" stroke="#ffffff" stroke-width="0.25">81</text>
<g transform="translate(168,552.58) scale(0.77,1)" font-family="Liberation Sans, sans-serif" font-size="8.8" fill="#15110d" stroke="#15110d" stroke-width="0.22" text-anchor="start"><text x="0" y="0">Argentina</text><text x="0" y="8.8" font-style="italic" font-weight="bold" stroke="none">26.6</text></g>
<circle cx="251.8" cy="367.5" r="8" fill="#5e1b7d"/><circle cx="251.8" cy="367.5" r="7.65" fill="none" stroke="#fff" stroke-width="0.7"/><text transform="translate(251.8,370.38) scale(0.88,1)" text-anchor="middle" font-family="Liberation Serif, serif" font-weight="bold" font-size="8.6" fill="#ffffff" stroke="#ffffff" stroke-width="0.25">112</text>
<circle cx="276" cy="368.8" r="8.5" fill="#15102e"/><circle cx="276" cy="368.8" r="8.15" fill="none" stroke="#fff" stroke-width="0.7"/><text transform="translate(276,371.68) scale(0.88,1)" text-anchor="middle" font-family="Liberation Serif, serif" font-weight="bold" font-size="8.6" fill="#ffffff" stroke="#ffffff" stroke-width="0.25">132</text>
<circle cx="303.8" cy="368.8" r="8.5" fill="#0a0813"/><circle cx="303.8" cy="368.8" r="8.15" fill="none" stroke="#fff" stroke-width="0.7"/><text transform="translate(303.8,371.68) scale(0.88,1)" text-anchor="middle" font-family="Liberation Serif, serif" font-weight="bold" font-size="8.6" fill="#ffffff" stroke="#ffffff" stroke-width="0.25">142</text>
<circle cx="330" cy="367.5" r="8.5" fill="#0a0813"/><circle cx="330" cy="367.5" r="8.15" fill="none" stroke="#fff" stroke-width="0.7"/><text transform="translate(330,370.38) scale(0.88,1)" text-anchor="middle" font-family="Liberation Serif, serif" font-weight="bold" font-size="8.6" fill="#ffffff" stroke="#ffffff" stroke-width="0.25">139</text>
<circle cx="358.7" cy="370.8" r="8" fill="#cf4658"/><circle cx="358.7" cy="370.8" r="7.65" fill="none" stroke="rgba(255,255,255,0.55)" stroke-width="0.7"/><text transform="translate(358.7,373.88) scale(0.95,1)" text-anchor="middle" font-family="Liberation Serif, serif" font-weight="bold" font-size="9.2" fill="#15110d" stroke="#15110d" stroke-width="0.25">70</text>
<circle cx="234.5" cy="408" r="8" fill="#e8602c"/><circle cx="234.5" cy="408" r="7.65" fill="none" stroke="rgba(255,255,255,0.55)" stroke-width="0.7"/><text transform="translate(234.5,411.08) scale(0.95,1)" text-anchor="middle" font-family="Liberation Serif, serif" font-weight="bold" font-size="9.2" fill="#15110d" stroke="#15110d" stroke-width="0.25">53</text>
<g transform="translate(239.5,423.08) scale(0.77,1)" font-family="Liberation Sans, sans-serif" font-size="8.8" fill="#15110d" stroke="#15110d" stroke-width="0.22" text-anchor="end"><text x="0" y="0">Senegal</text><text x="0" y="8" font-style="italic" font-weight="bold" stroke="none">34.0</text></g>
<circle cx="252.5" cy="427.5" r="8" fill="#d8453a"/><circle cx="252.5" cy="427.5" r="7.65" fill="none" stroke="rgba(255,255,255,0.55)" stroke-width="0.7"/><text transform="translate(252.5,430.58) scale(0.95,1)" text-anchor="middle" font-family="Liberation Serif, serif" font-weight="bold" font-size="9.2" fill="#15110d" stroke="#15110d" stroke-width="0.25">60</text>
<g transform="translate(256,443.58) scale(0.77,1)" font-family="Liberation Sans, sans-serif" font-size="8.8" fill="#15110d" stroke="#15110d" stroke-width="0.22" text-anchor="end"><text x="0" y="0">Ivory Coast</text><text x="0" y="8" font-style="italic" font-weight="bold" stroke="none">32.1</text></g>
<circle cx="280.8" cy="411.3" r="8" fill="#9b2a6a"/><circle cx="280.8" cy="411.3" r="7.65" fill="none" stroke="#fff" stroke-width="0.7"/><text transform="translate(280.8,414.38) scale(0.95,1)" text-anchor="middle" font-family="Liberation Serif, serif" font-weight="bold" font-size="9.2" fill="#ffffff" stroke="#ffffff" stroke-width="0.25">90</text>
<circle cx="293.3" cy="419.3" r="8" fill="#d8453a"/><circle cx="293.3" cy="419.3" r="7.65" fill="none" stroke="rgba(255,255,255,0.55)" stroke-width="0.7"/><text transform="translate(293.3,422.38) scale(0.95,1)" text-anchor="middle" font-family="Liberation Serif, serif" font-weight="bold" font-size="9.2" fill="#15110d" stroke="#15110d" stroke-width="0.25">64</text>
<circle cx="346.3" cy="415.5" r="8" fill="#d8453a"/><circle cx="346.3" cy="415.5" r="7.65" fill="none" stroke="rgba(255,255,255,0.55)" stroke-width="0.7"/><text transform="translate(346.3,418.58) scale(0.95,1)" text-anchor="middle" font-family="Liberation Serif, serif" font-weight="bold" font-size="9.2" fill="#15110d" stroke="#15110d" stroke-width="0.25">63</text>
<circle cx="369.2" cy="400.5" r="8" fill="#d8453a"/><circle cx="369.2" cy="400.5" r="7.65" fill="none" stroke="rgba(255,255,255,0.55)" stroke-width="0.7"/><text transform="translate(369.2,403.58) scale(0.95,1)" text-anchor="middle" font-family="Liberation Serif, serif" font-weight="bold" font-size="9.2" fill="#15110d" stroke="#15110d" stroke-width="0.25">62</text>
<g transform="translate(379,411.08) scale(0.77,1)" font-family="Liberation Sans, sans-serif" font-size="8.8" fill="#15110d" stroke="#15110d" stroke-width="0.22" text-anchor="start"><text x="0" y="0">Yemen</text><text x="0" y="8" font-style="italic" font-weight="bold" stroke="none">30.8</text></g>
<circle cx="303.5" cy="447.5" r="8" fill="#f7941e"/><circle cx="303.5" cy="447.5" r="7.65" fill="none" stroke="rgba(255,255,255,0.55)" stroke-width="0.7"/><text transform="translate(303.5,450.58) scale(0.95,1)" text-anchor="middle" font-family="Liberation Serif, serif" font-weight="bold" font-size="9.2" fill="#15110d" stroke="#15110d" stroke-width="0.25">36</text>
<g transform="translate(300.5,462.58) scale(0.77,1)" font-family="Liberation Sans, sans-serif" font-size="8.8" fill="#15110d" stroke="#15110d" stroke-width="0.22" text-anchor="end"><text x="0" y="0">DRC <tspan font-style="italic" font-weight="bold" stroke="none">37.9</tspan></text></g>
<circle cx="348.3" cy="438.5" r="7.5" fill="#46147a"/><circle cx="348.3" cy="438.5" r="7.15" fill="none" stroke="#fff" stroke-width="0.7"/><text transform="translate(348.3,441.38) scale(0.88,1)" text-anchor="middle" font-family="Liberation Serif, serif" font-weight="bold" font-size="8.6" fill="#ffffff" stroke="#ffffff" stroke-width="0.25">117</text>
<g transform="translate(358.5,441.58) scale(0.77,1)" font-family="Liberation Sans, sans-serif" font-size="8.8" fill="#15110d" stroke="#15110d" stroke-width="0.22" text-anchor="start"><text x="0" y="0">Kenya <tspan font-style="italic" font-weight="bold" stroke="none">19.6</tspan></text></g>
<circle cx="341" cy="452.3" r="7.5" fill="#15102e"/><circle cx="341" cy="452.3" r="7.15" fill="none" stroke="#fff" stroke-width="0.7"/><text transform="translate(341,455.18) scale(0.88,1)" text-anchor="middle" font-family="Liberation Serif, serif" font-weight="bold" font-size="8.6" fill="#ffffff" stroke="#ffffff" stroke-width="0.25">131</text>
<g transform="translate(351.5,455.38) scale(0.77,1)" font-family="Liberation Sans, sans-serif" font-size="8.8" fill="#15110d" stroke="#15110d" stroke-width="0.22" text-anchor="start"><text x="0" y="0">Tanzania <tspan font-style="italic" font-weight="bold" stroke="none">17.1</tspan></text></g>
<circle cx="350" cy="466.5" r="8" fill="#b3305f"/><circle cx="350" cy="466.5" r="7.65" fill="none" stroke="#fff" stroke-width="0.7"/><text transform="translate(350,469.58) scale(0.95,1)" text-anchor="middle" font-family="Liberation Serif, serif" font-weight="bold" font-size="9.2" fill="#ffffff" stroke="#ffffff" stroke-width="0.25">85</text>
<g transform="translate(360.5,469.58) scale(0.77,1)" font-family="Liberation Sans, sans-serif" font-size="8.8" fill="#15110d" stroke="#15110d" stroke-width="0.22" text-anchor="start"><text x="0" y="0">Mozambique <tspan font-style="italic" font-weight="bold" stroke="none">25.8</tspan></text></g>
<circle cx="302.5" cy="493" r="8" fill="#9b2a6a"/><circle cx="302.5" cy="493" r="7.65" fill="none" stroke="#fff" stroke-width="0.7"/><text transform="translate(302.5,496.08) scale(0.95,1)" text-anchor="middle" font-family="Liberation Serif, serif" font-weight="bold" font-size="9.2" fill="#ffffff" stroke="#ffffff" stroke-width="0.25">94</text>
<g transform="translate(291.5,492.08) scale(0.77,1)" font-family="Liberation Sans, sans-serif" font-size="8.8" fill="#15110d" stroke="#15110d" stroke-width="0.22" text-anchor="end"><text x="0" y="0">Namibia</text><text x="0" y="8.8" font-style="italic" font-weight="bold" stroke="none">23.5</text></g>
<circle cx="309.5" cy="521.3" r="8" fill="#8b2a78"/><circle cx="309.5" cy="521.3" r="7.65" fill="none" stroke="#fff" stroke-width="0.7"/><text transform="translate(309.5,524.38) scale(0.95,1)" text-anchor="middle" font-family="Liberation Serif, serif" font-weight="bold" font-size="9.2" fill="#ffffff" stroke="#ffffff" stroke-width="0.25">96</text>
<g transform="translate(298.5,520.08) scale(0.77,1)" font-family="Liberation Sans, sans-serif" font-size="8.8" fill="#15110d" stroke="#15110d" stroke-width="0.22" text-anchor="end"><text x="0" y="0">South Africa</text><text x="0" y="8.8" font-style="italic" font-weight="bold" stroke="none">23.3</text></g>
<circle cx="363" cy="501.3" r="8" fill="#15102e"/><circle cx="363" cy="501.3" r="7.65" fill="none" stroke="#fff" stroke-width="0.7"/><text transform="translate(363,504.18) scale(0.88,1)" text-anchor="middle" font-family="Liberation Serif, serif" font-weight="bold" font-size="8.6" fill="#ffffff" stroke="#ffffff" stroke-width="0.25">135</text>
<g transform="translate(374,504.38) scale(0.77,1)" font-family="Liberation Sans, sans-serif" font-size="8.8" fill="#15110d" stroke="#15110d" stroke-width="0.22" text-anchor="start"><text x="0" y="0">Madagascar</text><text x="0" y="8.4" font-style="italic" font-weight="bold" stroke="none">15.4</text></g>
<circle cx="422.5" cy="277" r="8" fill="#a62b62"/><circle cx="422.5" cy="277" r="7.65" fill="none" stroke="#fff" stroke-width="0.7"/><text transform="translate(422.5,280.08) scale(0.95,1)" text-anchor="middle" font-family="Liberation Serif, serif" font-weight="bold" font-size="9.2" fill="#ffffff" stroke="#ffffff" stroke-width="0.25">82</text>
<g transform="translate(433,280.08) scale(0.77,1)" font-family="Liberation Sans, sans-serif" font-size="8.8" fill="#ffffff" stroke="#ffffff" stroke-width="0.22" text-anchor="start"><text x="0" y="0">Russia <tspan font-style="italic" font-weight="bold" stroke="none">26.5</tspan></text></g>
<circle cx="392.5" cy="307.5" r="8" fill="#46147a"/><circle cx="392.5" cy="307.5" r="7.65" fill="none" stroke="#fff" stroke-width="0.7"/><text transform="translate(392.5,310.38) scale(0.88,1)" text-anchor="middle" font-family="Liberation Serif, serif" font-weight="bold" font-size="8.6" fill="#ffffff" stroke="#ffffff" stroke-width="0.25">118</text>
<circle cx="456.8" cy="313.3" r="8" fill="#8b2a78"/><circle cx="456.8" cy="313.3" r="7.65" fill="none" stroke="#fff" stroke-width="0.7"/><text transform="translate(456.8,316.38) scale(0.95,1)" text-anchor="middle" font-family="Liberation Serif, serif" font-weight="bold" font-size="9.2" fill="#ffffff" stroke="#ffffff" stroke-width="0.25">98</text>
<circle cx="447.5" cy="342" r="8" fill="#621c80"/><circle cx="447.5" cy="342" r="7.65" fill="none" stroke="#fff" stroke-width="0.7"/><text transform="translate(447.5,344.88) scale(0.88,1)" text-anchor="middle" font-family="Liberation Serif, serif" font-weight="bold" font-size="8.6" fill="#ffffff" stroke="#ffffff" stroke-width="0.25">109</text>
<g transform="translate(458,341.08) scale(0.77,1)" font-family="Liberation Sans, sans-serif" font-size="8.8" fill="#ffffff" stroke="#ffffff" stroke-width="0.22" text-anchor="start"><text x="0" y="0">China</text><text x="0" y="8.8" font-style="italic" font-weight="bold" stroke="none">21.2</text></g>
<circle cx="375.8" cy="350.5" r="8" fill="#15102e"/><circle cx="375.8" cy="350.5" r="7.65" fill="none" stroke="#fff" stroke-width="0.7"/><text transform="translate(375.8,353.38) scale(0.88,1)" text-anchor="middle" font-family="Liberation Serif, serif" font-weight="bold" font-size="8.6" fill="#ffffff" stroke="#ffffff" stroke-width="0.25">134</text>
<path d="M400 375 L400 382.5" stroke="#333" stroke-width="0.6"/>
<circle cx="400" cy="367" r="8" fill="#0a0813"/><circle cx="400" cy="367" r="7.65" fill="none" stroke="#fff" stroke-width="0.7"/><text transform="translate(400,369.88) scale(0.88,1)" text-anchor="middle" font-family="Liberation Serif, serif" font-weight="bold" font-size="8.6" fill="#ffffff" stroke="#ffffff" stroke-width="0.25">143</text>
<g transform="translate(414,390.58) scale(0.77,1)" font-family="Liberation Sans, sans-serif" font-size="8.8" fill="#15110d" stroke="#15110d" stroke-width="0.22" text-anchor="end"><text x="0" y="0">Pakistan</text><text x="0" y="8" font-style="italic" font-weight="bold" stroke="none">11.3</text></g>
<circle cx="431.3" cy="382" r="8" fill="#0a0813"/><circle cx="431.3" cy="382" r="7.65" fill="none" stroke="#fff" stroke-width="0.7"/><text transform="translate(431.3,384.88) scale(0.88,1)" text-anchor="middle" font-family="Liberation Serif, serif" font-weight="bold" font-size="8.6" fill="#ffffff" stroke="#ffffff" stroke-width="0.25">140</text>
<g transform="translate(434.5,397.58) scale(0.77,1)" font-family="Liberation Sans, sans-serif" font-size="8.8" fill="#15110d" stroke="#15110d" stroke-width="0.22" text-anchor="start"><text x="0" y="0">India</text><text x="0" y="8" font-style="italic" font-weight="bold" stroke="none">12.8</text></g>
<circle cx="461.3" cy="395.5" r="8" fill="#b3305f"/><circle cx="461.3" cy="395.5" r="7.65" fill="none" stroke="#fff" stroke-width="0.7"/><text transform="translate(461.3,398.58) scale(0.95,1)" text-anchor="middle" font-family="Liberation Serif, serif" font-weight="bold" font-size="9.2" fill="#ffffff" stroke="#ffffff" stroke-width="0.25">86</text>
<path d="M537 314 L522.5 314 L518.7 319 L518.7 337.5 L512.5 343.7" fill="none" stroke="#f5b335" stroke-width="0.7"/>
<circle cx="494.3" cy="378.8" r="9.5" fill="#f7f08a"/><text transform="translate(494.3,383.16) scale(0.95,1)" text-anchor="middle" font-family="Liberation Serif, serif" font-weight="bold" font-size="13" fill="#15110d" stroke="#15110d" stroke-width="0.25">6</text>
<path d="M503.5 384 L518 384" stroke="#f3e58a" stroke-width="0.7"/>
<g transform="translate(519,388.08) scale(0.77,1)" font-family="Liberation Sans, sans-serif" font-size="8.8" fill="#15110d" stroke="#15110d" stroke-width="0.22" text-anchor="start"><text x="0" y="0">Hong Kong<tspan font-size="4.6" fill="#555" stroke="none" dx="1">SAR</tspan></text><text x="0" y="8" font-style="italic" font-weight="bold" stroke="none">65.6</text></g>
<circle cx="508.5" cy="371" r="8" fill="#e8602c"/><circle cx="508.5" cy="371" r="7.65" fill="none" stroke="rgba(255,255,255,0.55)" stroke-width="0.7"/><text transform="translate(508.5,374.08) scale(0.95,1)" text-anchor="middle" font-family="Liberation Serif, serif" font-weight="bold" font-size="9.2" fill="#15110d" stroke="#15110d" stroke-width="0.25">52</text>
<g transform="translate(519,374.08) scale(0.77,1)" font-family="Liberation Sans, sans-serif" font-size="8.8" fill="#15110d" stroke="#15110d" stroke-width="0.22" text-anchor="start"><text x="0" y="0">Taiwan <tspan font-style="italic" font-weight="bold" stroke="none">34.2</tspan></text></g>
<circle cx="507.5" cy="349" r="8" fill="#fbb030"/><circle cx="507.5" cy="349" r="7.65" fill="none" stroke="rgba(255,255,255,0.55)" stroke-width="0.7"/><text transform="translate(507.5,352.08) scale(0.95,1)" text-anchor="middle" font-family="Liberation Serif, serif" font-weight="bold" font-size="9.2" fill="#15110d" stroke="#15110d" stroke-width="0.25">29</text>
<g transform="translate(539,315.08) scale(0.77,1)" font-family="Liberation Sans, sans-serif" font-size="8.8" fill="#15110d" stroke="#15110d" stroke-width="0.22" text-anchor="start"><text x="0" y="0">South Korea</text><text x="0" y="8.8" font-style="italic" font-weight="bold" stroke="none">42.9</text></g>
<circle cx="533.8" cy="337" r="8" fill="#e8602c"/><circle cx="533.8" cy="337" r="7.65" fill="none" stroke="rgba(255,255,255,0.55)" stroke-width="0.7"/><text transform="translate(533.8,340.08) scale(0.95,1)" text-anchor="middle" font-family="Liberation Serif, serif" font-weight="bold" font-size="9.2" fill="#15110d" stroke="#15110d" stroke-width="0.25">50</text>
<g transform="translate(544.5,336.08) scale(0.77,1)" font-family="Liberation Sans, sans-serif" font-size="8.8" fill="#15110d" stroke="#15110d" stroke-width="0.22" text-anchor="start"><text x="0" y="0">Japan</text><text x="0" y="8.8" font-style="italic" font-weight="bold" stroke="none">34.3</text></g>
<circle cx="525.8" cy="411.8" r="7.5" fill="#46147a"/><circle cx="525.8" cy="411.8" r="7.15" fill="none" stroke="#fff" stroke-width="0.7"/><text transform="translate(525.8,414.68) scale(0.88,1)" text-anchor="middle" font-family="Liberation Serif, serif" font-weight="bold" font-size="8.6" fill="#ffffff" stroke="#ffffff" stroke-width="0.25">115</text>
<g transform="translate(536.5,411.08) scale(0.77,1)" font-family="Liberation Sans, sans-serif" font-size="8.8" fill="#15110d" stroke="#15110d" stroke-width="0.22" text-anchor="start"><text x="0" y="0">Philippines</text><text x="0" y="8.8" font-style="italic" font-weight="bold" stroke="none">19.8</text></g>
<circle cx="477.8" cy="441.5" r="9.5" fill="#f7f08a"/><text transform="translate(477.8,445.86) scale(0.95,1)" text-anchor="middle" font-family="Liberation Serif, serif" font-weight="bold" font-size="13" fill="#15110d" stroke="#15110d" stroke-width="0.25">3</text>
<g transform="translate(465.5,439.58) scale(0.77,1)" font-family="Liberation Sans, sans-serif" font-size="8.8" fill="#15110d" stroke="#15110d" stroke-width="0.22" text-anchor="end"><text x="0" y="0">Singapore</text><text x="0" y="9" font-style="italic" font-weight="bold" stroke="none">80.9</text></g>
<circle cx="510.5" cy="444.5" r="8" fill="#1f0c48"/><circle cx="510.5" cy="444.5" r="7.65" fill="none" stroke="#fff" stroke-width="0.7"/><text transform="translate(510.5,447.38) scale(0.88,1)" text-anchor="middle" font-family="Liberation Serif, serif" font-weight="bold" font-size="8.6" fill="#ffffff" stroke="#ffffff" stroke-width="0.25">130</text>
<g transform="translate(507,460.08) scale(0.77,1)" font-family="Liberation Sans, sans-serif" font-size="8.8" fill="#15110d" stroke="#15110d" stroke-width="0.22" text-anchor="start"><text x="0" y="0">Indonesia</text><text x="0" y="8" font-style="italic" font-weight="bold" stroke="none">17.6</text></g>
<circle cx="567.5" cy="452" r="8" fill="#f5df52"/><circle cx="567.5" cy="452" r="7.65" fill="none" stroke="rgba(255,255,255,0.55)" stroke-width="0.7"/><text transform="translate(567.5,455.08) scale(0.95,1)" text-anchor="middle" font-family="Liberation Serif, serif" font-weight="bold" font-size="9.2" fill="#15110d" stroke="#15110d" stroke-width="0.25">16</text>
<circle cx="509.5" cy="500" r="8" fill="#f9c42e"/><circle cx="509.5" cy="500" r="7.65" fill="none" stroke="rgba(255,255,255,0.55)" stroke-width="0.7"/><text transform="translate(509.5,503.08) scale(0.95,1)" text-anchor="middle" font-family="Liberation Serif, serif" font-weight="bold" font-size="9.2" fill="#15110d" stroke="#15110d" stroke-width="0.25">18</text>
<g transform="translate(521,499.08) scale(0.77,1)" font-family="Liberation Sans, sans-serif" font-size="8.8" fill="#15110d" stroke="#15110d" stroke-width="0.22" text-anchor="start"><text x="0" y="0">Australia</text><text x="0" y="8.8" font-style="italic" font-weight="bold" stroke="none">49.5</text></g>
<circle cx="574.7" cy="557.1" r="8" fill="#fbb030"/><circle cx="574.7" cy="557.1" r="7.65" fill="none" stroke="rgba(255,255,255,0.55)" stroke-width="0.7"/><text transform="translate(574.7,560.18) scale(0.95,1)" text-anchor="middle" font-family="Liberation Serif, serif" font-weight="bold" font-size="9.2" fill="#15110d" stroke="#15110d" stroke-width="0.25">27</text>
<g transform="translate(564,556.58) scale(0.77,1)" font-family="Liberation Sans, sans-serif" font-size="8.8" fill="#15110d" stroke="#15110d" stroke-width="0.22" text-anchor="end"><text x="0" y="0">New Zealand</text><text x="0" y="8.8" font-style="italic" font-weight="bold" stroke="none">44.9</text></g>
<rect x="376.3" y="550" width="14" height="6.5" fill="#e0e0e0"/>
<text x="396" y="556.5" font-family="Liberation Sans, sans-serif" font-style="italic" font-size="8.25" fill="#111" stroke="#111" stroke-width="0.15">No data available</text>
</svg>

<div id="tabletitle">REGIONAL TOP / BOTTOM 3</div>
<div class="ghead" style="left:40px;top:616.0px;width:259.5px"><span>Africa</span></div>
<div class="lab" style="left:-19px;top:632.5px;width:110px;">DRC</div>
<div class="flag" style="left:94px;top:632.75px;background:linear-gradient(-45deg,#1583d8 0 38%,#f4d03a 38% 42%,#e03131 42% 58%,#f4d03a 58% 62%,#1583d8 62%)"></div>
<div class="bar" style="left:106px;top:632.5px;width:61px;background:#f7941e;color:#1a1a1a">37.9</div>
<div class="lab" style="left:-19px;top:644.0px;width:110px;">Senegal</div>
<div class="flag" style="left:94px;top:644.25px;background:linear-gradient(90deg,#1c9b4b 0 33%,#f6e03a 33% 67%,#e03131 67%)"></div>
<div class="bar" style="left:106px;top:644.0px;width:61px;background:#e9622b;color:#1a1a1a">34.0</div>
<div class="lab" style="left:-19px;top:655.5px;width:110px;">Ivory Coast</div>
<div class="flag" style="left:94px;top:655.75px;background:linear-gradient(90deg,#f58a1f 0 33%,#fff 33% 67%,#1c9b4b 67%)"></div>
<div class="bar" style="left:106px;top:655.5px;width:61px;background:#dc4c36;color:#1a1a1a">32.1</div>
<div class="lab" style="left:105.5px;top:632.5px;width:110px;">Libya</div>
<div class="flag" style="left:218.5px;top:632.75px;background:linear-gradient(180deg,#e03131 0 27%,#111 27% 73%,#1c9b4b 73%)"></div>
<div class="bar" style="left:231px;top:632.5px;width:61px;background:#0a0813;color:#fff">11.3</div>
<div class="lab" style="left:105.5px;top:644.0px;width:110px;">Egypt</div>
<div class="flag" style="left:218.5px;top:644.25px;background:linear-gradient(180deg,#d92b2b 0 33%,#fff 33% 67%,#111 67%)"></div>
<div class="bar" style="left:231px;top:644.0px;width:61px;background:#0d0a1b;color:#fff">12.8</div>
<div class="lab" style="left:105.5px;top:655.5px;width:110px;">Madagascar</div>
<div class="flag" style="left:218.5px;top:655.75px;background:linear-gradient(90deg,#fff 0 34%,transparent 34%),linear-gradient(180deg,#e8443a 0 50%,#1c9b4b 50%)"></div>
<div class="bar" style="left:231px;top:655.5px;width:61px;background:#14102f;color:#fff">15.4</div>
<div class="ghead" style="left:40px;top:672.5px;width:259.5px"><span>Asia</span></div>
<div class="lab" style="left:-19px;top:689.0px;width:110px;">Singapore</div>
<div class="flag" style="left:94px;top:689.25px;background:linear-gradient(180deg,#ee3344 0 50%,#fff 50%)"></div>
<div class="bar" style="left:106px;top:689.0px;width:61px;background:#fbfb9f;color:#1a1a1a">80.9</div>
<div class="lab" style="left:-19px;top:700.5px;width:110px;">Hong Kong <small>SAR</small></div>
<div class="flag" style="left:94px;top:700.75px;background:radial-gradient(circle at 50% 50%,#fff 0 28%,#e8284a 32%)"></div>
<div class="bar" style="left:106px;top:700.5px;width:61px;background:#f5f398;color:#1a1a1a">65.6</div>
<div class="lab" style="left:-19px;top:712.0px;width:110px;">Macao <small>SAR</small></div>
<div class="flag" style="left:94px;top:712.25px;background:radial-gradient(circle at 50% 55%,#fff 0 26%,#24a35a 30%)"></div>
<div class="bar" style="left:106px;top:712.0px;width:61px;background:#f7971e;color:#1a1a1a">44.0</div>
<div class="lab" style="left:105.5px;top:689.0px;width:110px;">Pakistan</div>
<div class="flag" style="left:218.5px;top:689.25px;background:linear-gradient(90deg,#fff 0 27%,#0b6b35 27%)"></div>
<div class="bar" style="left:231px;top:689.0px;width:61px;background:#0a0813;color:#fff">11.3</div>
<div class="lab" style="left:105.5px;top:700.5px;width:110px;">Afghanistan</div>
<div class="flag" style="left:218.5px;top:700.75px;background:linear-gradient(90deg,#111 0 33%,#d92b2b 33% 67%,#1c8b3b 67%)"></div>
<div class="bar" style="left:231px;top:700.5px;width:61px;background:#0b0916;color:#fff">11.6</div>
<div class="lab" style="left:105.5px;top:712.0px;width:110px;">India</div>
<div class="flag" style="left:218.5px;top:712.25px;background:linear-gradient(180deg,#f7932a 0 33%,#fff 33% 67%,#1c8b3b 67%)"></div>
<div class="bar" style="left:231px;top:712.0px;width:61px;background:#0d0a1b;color:#fff">12.8</div>
<div class="ghead" style="left:40px;top:729.0px;width:259.5px"><span>Central America</span></div>
<div class="lab" style="left:-19px;top:745.5px;width:110px;">Cayman Islands</div>
<div class="flag" style="left:94px;top:745.75px;background:radial-gradient(circle at 30% 30%,#d33 0 22%,transparent 26%),linear-gradient(#1f3f9a,#1f3f9a)"></div>
<div class="bar" style="left:106px;top:745.5px;width:61px;background:#fcfca6;color:#1a1a1a">94.3</div>
<div class="lab" style="left:-19px;top:757.0px;width:110px;">Bahamas</div>
<div class="flag" style="left:94px;top:757.25px;background:linear-gradient(100deg,#111 0 30%,transparent 30%),linear-gradient(180deg,#1fb3c9 0 33%,#f6d53a 33% 67%,#1fb3c9 67%)"></div>
<div class="bar" style="left:106px;top:757.0px;width:61px;background:#f7f59b;color:#1a1a1a">68.7</div>
<div class="lab" style="left:-19px;top:768.5px;width:110px;">Puerto Rico</div>
<div class="flag" style="left:94px;top:768.75px;background:linear-gradient(100deg,#2452b8 0 32%,transparent 32%),repeating-linear-gradient(180deg,#e03131 0 2px,#fff 2px 4px)"></div>
<div class="bar" style="left:106px;top:768.5px;width:61px;background:#f7941e;color:#1a1a1a">42.7</div>
<div class="lab" style="left:105.5px;top:745.5px;width:110px;">Nicaragua</div>
<div class="flag" style="left:218.5px;top:745.75px;background:linear-gradient(180deg,#2a7fe0 0 33%,#fff 33% 67%,#2a7fe0 67%)"></div>
<div class="bar" style="left:231px;top:745.5px;width:61px;background:#f38b20;color:#1a1a1a">22.0</div>
<div class="lab tiny" style="left:105.5px;top:757.0px;width:110px;">Dominican Republic</div>
<div class="flag" style="left:218.5px;top:757.25px;background:linear-gradient(90deg,transparent 0 40%,#fff 40% 60%,transparent 60%),linear-gradient(180deg,transparent 0 40%,#fff 40% 60%,transparent 60%),conic-gradient(#d92b2b 0 25%,#1f3f9a 25% 50%,#d92b2b 50% 75%,#1f3f9a 75%)"></div>
<div class="bar" style="left:231px;top:757.0px;width:61px;background:#8a2a72;color:#fff">24.0</div>
<div class="lab" style="left:105.5px;top:768.5px;width:110px;">Honduras</div>
<div class="flag" style="left:218.5px;top:768.75px;background:linear-gradient(180deg,#2a7fe0 0 33%,#fff 33% 67%,#2a7fe0 67%)"></div>
<div class="bar" style="left:231px;top:768.5px;width:61px;background:#8d2b71;color:#fff">24.1</div>
<div class="ghead" style="left:40px;top:785.5px;width:259.5px"><span>Europe</span></div>
<div class="lab" style="left:-19px;top:802.0px;width:110px;">Switzerland</div>
<div class="flag" style="left:94px;top:802.25px;background:linear-gradient(90deg,transparent 0 40%,#fff 40% 60%,transparent 60%) 50% 50%/60% 60% no-repeat,linear-gradient(180deg,transparent 0 40%,#fff 40% 60%,transparent 60%) 50% 50%/60% 60% no-repeat,#e8332e"></div>
<div class="bar" style="left:106px;top:802.0px;width:61px;background:#fbfb9f;color:#1a1a1a">82.3</div>
<div class="lab" style="left:-19px;top:813.5px;width:110px;">Iceland</div>
<div class="flag" style="left:94px;top:813.75px;background:linear-gradient(90deg,transparent 0 30%,#e8332e 30% 44%,transparent 44%),linear-gradient(180deg,transparent 0 43%,#e8332e 43% 57%,transparent 57%),linear-gradient(90deg,transparent 0 24%,#fff 24% 50%,transparent 50%),linear-gradient(180deg,transparent 0 37%,#fff 37% 63%,transparent 63%),#2452b8"></div>
<div class="bar" style="left:106px;top:813.5px;width:61px;background:#f9f89d;color:#1a1a1a">75.2</div>
<div class="lab" style="left:-19px;top:825.0px;width:110px;">Guernsey</div>
<div class="flag" style="left:94px;top:825.25px;background:linear-gradient(90deg,transparent 0 40%,#e8332e 40% 60%,transparent 60%),linear-gradient(180deg,transparent 0 40%,#e8332e 40% 60%,transparent 60%),#fff"></div>
<div class="bar" style="left:106px;top:825.0px;width:61px;background:#f4f297;color:#1a1a1a">62.5</div>
<div class="lab" style="left:105.5px;top:802.0px;width:110px;">Ukraine</div>
<div class="flag" style="left:218.5px;top:802.25px;background:linear-gradient(180deg,#2a6fd8 0 50%,#f6d53a 50%)"></div>
<div class="bar" style="left:231px;top:802.0px;width:61px;background:#2b115f;color:#fff">18.2</div>
<div class="lab" style="left:105.5px;top:813.5px;width:110px;">Belarus</div>
<div class="flag" style="left:218.5px;top:813.75px;background:linear-gradient(180deg,#d9342b 0 64%,#2a9b45 64%)"></div>
<div class="bar" style="left:231px;top:813.5px;width:61px;background:#2f1266;color:#fff">18.4</div>
<div class="lab" style="left:105.5px;top:825.0px;width:110px;">Kosovo</div>
<div class="flag" style="left:218.5px;top:825.25px;background:radial-gradient(circle at 50% 55%,#f0c53a 0 22%,transparent 26%),#2452b8"></div>
<div class="bar" style="left:231px;top:825.0px;width:61px;background:#381470;color:#fff">18.8</div>
<div class="ghead" style="left:300.5px;top:616.0px;width:259.5px"><span>Middle East</span></div>
<div class="lab" style="left:237.5px;top:632.5px;width:110px;">Israel</div>
<div class="flag" style="left:350.5px;top:632.75px;background:linear-gradient(180deg,#fff 0 18%,#2a5fd0 18% 30%,#fff 30% 70%,#2a5fd0 70% 82%,#fff 82%)"></div>
<div class="bar" style="left:362.5px;top:632.5px;width:61px;background:#f7dc50;color:#1a1a1a">51.8</div>
<div class="lab" style="left:237.5px;top:644.0px;width:110px;">UAE</div>
<div class="flag" style="left:350.5px;top:644.25px;background:linear-gradient(90deg,#e0312e 0 30%,transparent 30%),linear-gradient(180deg,#1c9b4b 0 33%,#fff 33% 67%,#111 67%)"></div>
<div class="bar" style="left:362.5px;top:644.0px;width:61px;background:#f9c733;color:#1a1a1a">48.7</div>
<div class="lab" style="left:237.5px;top:655.5px;width:110px;">Qatar</div>
<div class="flag" style="left:350.5px;top:655.75px;background:linear-gradient(90deg,#fff 0 35%,#8a1538 35%)"></div>
<div class="bar" style="left:362.5px;top:655.5px;width:61px;background:#f8981d;color:#1a1a1a">42.7</div>
<div class="lab" style="left:362.0px;top:632.5px;width:110px;">Syria</div>
<div class="flag" style="left:475.0px;top:632.75px;background:linear-gradient(180deg,#d92b2b 0 33%,#fff 33% 67%,#111 67%)"></div>
<div class="bar" style="left:487.5px;top:632.5px;width:61px;background:#100c25;color:#fff">15.0</div>
<div class="lab" style="left:362.0px;top:644.0px;width:110px;">Iran</div>
<div class="flag" style="left:475.0px;top:644.25px;background:linear-gradient(180deg,#2a9b45 0 33%,#fff 33% 67%,#d92b2b 67%)"></div>
<div class="bar" style="left:487.5px;top:644.0px;width:61px;background:#150f31;color:#fff">16.2</div>
<div class="lab" style="left:362.0px;top:655.5px;width:110px;">Iraq</div>
<div class="flag" style="left:475.0px;top:655.75px;background:linear-gradient(180deg,#d92b2b 0 33%,#fff 33% 67%,#111 67%)"></div>
<div class="bar" style="left:487.5px;top:655.5px;width:61px;background:#2d1263;color:#fff">18.3</div>
<div class="ghead" style="left:300.5px;top:672.5px;width:259.5px"><span>North America</span></div>
<div class="lab" style="left:237.5px;top:689.0px;width:110px;">U.S.</div>
<div class="flag" style="left:350.5px;top:689.25px;background:linear-gradient(90deg,#2a3f9a 0 45%,transparent 45%) 0 0/100% 50% no-repeat,repeating-linear-gradient(180deg,#d9342b 0 1.5px,#fff 1.5px 3px)"></div>
<div class="bar" style="left:362.5px;top:689.0px;width:61px;background:#f6d847;color:#1a1a1a">54.6</div>
<div class="lab" style="left:237.5px;top:700.5px;width:110px;">Canada</div>
<div class="flag" style="left:350.5px;top:700.75px;background:linear-gradient(90deg,#e0312e 0 27%,#fff 27% 73%,#e0312e 73%)"></div>
<div class="bar" style="left:362.5px;top:700.5px;width:61px;background:#f9c42f;color:#1a1a1a">48.1</div>
<div class="lab" style="left:237.5px;top:712.0px;width:110px;">Mexico</div>
<div class="flag" style="left:350.5px;top:712.25px;background:linear-gradient(90deg,#1c8b4b 0 33%,#fff 33% 67%,#d92b2b 67%)"></div>
<div class="bar" style="left:362.5px;top:712.0px;width:61px;background:#b6305f;color:#fff">28.0</div>
<div class="lab" style="left:412.0px;top:689.0px;width:60px;"><span style="display:inline-block;width:8px;text-align:center">-</span></div>
<div class="bar" style="left:487.5px;top:689.0px;width:61px;background:#e6e6e6;color:#1a1a1a">-</div>
<div class="lab" style="left:412.0px;top:700.5px;width:60px;"><span style="display:inline-block;width:8px;text-align:center">-</span></div>
<div class="bar" style="left:487.5px;top:700.5px;width:61px;background:#e6e6e6;color:#1a1a1a">-</div>
<div class="lab" style="left:412.0px;top:712.0px;width:60px;"><span style="display:inline-block;width:8px;text-align:center">-</span></div>
<div class="bar" style="left:487.5px;top:712.0px;width:61px;background:#e6e6e6;color:#1a1a1a">-</div>
<div class="ghead" style="left:300.5px;top:729.0px;width:259.5px"><span>Oceania</span></div>
<div class="lab tiny" style="left:237.5px;top:745.5px;width:110px;">Papua New Guinea</div>
<div class="flag" style="left:350.5px;top:745.75px;background:linear-gradient(45deg,#111 0 50%,#d92b2b 50%)"></div>
<div class="bar" style="left:362.5px;top:745.5px;width:61px;background:#f6dd51;color:#1a1a1a">51.6</div>
<div class="lab" style="left:237.5px;top:757.0px;width:110px;">Australia</div>
<div class="flag" style="left:350.5px;top:757.25px;background:radial-gradient(circle at 30% 30%,#d33 0 20%,transparent 24%),#1f2f8a"></div>
<div class="bar" style="left:362.5px;top:757.0px;width:61px;background:#f9c932;color:#1a1a1a">49.5</div>
<div class="lab" style="left:237.5px;top:768.5px;width:110px;">New Zealand</div>
<div class="flag" style="left:350.5px;top:768.75px;background:radial-gradient(circle at 30% 30%,#d33 0 20%,transparent 24%),#1f2f8a"></div>
<div class="bar" style="left:362.5px;top:768.5px;width:61px;background:#fbb521;color:#1a1a1a">44.9</div>
<div class="lab" style="left:362.0px;top:745.5px;width:110px;">Fiji</div>
<div class="flag" style="left:475.0px;top:745.75px;background:radial-gradient(circle at 30% 30%,#d33 0 20%,transparent 24%),#5fb3e8"></div>
<div class="bar" style="left:487.5px;top:745.5px;width:61px;background:#a62c64;color:#fff">26.2</div>
<div class="lab" style="left:412.0px;top:757.0px;width:60px;"><span style="display:inline-block;width:8px;text-align:center">-</span></div>
<div class="bar" style="left:487.5px;top:757.0px;width:61px;background:#e6e6e6;color:#1a1a1a">-</div>
<div class="lab" style="left:412.0px;top:768.5px;width:60px;"><span style="display:inline-block;width:8px;text-align:center">-</span></div>
<div class="bar" style="left:487.5px;top:768.5px;width:61px;background:#e6e6e6;color:#1a1a1a">-</div>
<div class="ghead" style="left:300.5px;top:785.5px;width:259.5px"><span>South America</span></div>
<div class="lab" style="left:237.5px;top:802.0px;width:110px;">Uruguay</div>
<div class="flag" style="left:350.5px;top:802.25px;background:radial-gradient(circle at 25% 28%,#f0c53a 0 18%,transparent 22%),repeating-linear-gradient(180deg,#fff 0 1.4px,#3a6fd0 1.4px 2.8px)"></div>
<div class="bar" style="left:362.5px;top:802.0px;width:61px;background:#f47e20;color:#1a1a1a">35.2</div>
<div class="lab" style="left:237.5px;top:813.5px;width:110px;">Guyana</div>
<div class="flag" style="left:350.5px;top:813.75px;background:linear-gradient(115deg,#d92b2b 0 28%,#f6d53a 28% 55%,#1c9b4b 55%)"></div>
<div class="bar" style="left:362.5px;top:813.5px;width:61px;background:#ef7024;color:#1a1a1a">35.1</div>
<div class="lab" style="left:237.5px;top:825.0px;width:110px;">Argentina</div>
<div class="flag" style="left:350.5px;top:825.25px;background:linear-gradient(180deg,#6bb6ea 0 33%,#fff 33% 67%,#6bb6ea 67%)"></div>
<div class="bar" style="left:362.5px;top:825.0px;width:61px;background:#b22f61;color:#fff">26.6</div>
<div class="lab" style="left:362.0px;top:802.0px;width:110px;">Paraguay</div>
<div class="flag" style="left:475.0px;top:802.25px;background:linear-gradient(180deg,#d92b2b 0 33%,#fff 33% 67%,#2452b8 67%)"></div>
<div class="bar" style="left:487.5px;top:802.0px;width:61px;background:#160f34;color:#fff">16.6</div>
<div class="lab" style="left:362.0px;top:813.5px;width:110px;">Bolivia</div>
<div class="flag" style="left:475.0px;top:813.75px;background:linear-gradient(180deg,#d92b2b 0 33%,#f6d53a 33% 67%,#1c8b3b 67%)"></div>
<div class="bar" style="left:487.5px;top:813.5px;width:61px;background:#29115c;color:#fff">18.1</div>
<div class="lab" style="left:362.0px;top:825.0px;width:110px;">Brazil</div>
<div class="flag" style="left:475.0px;top:825.25px;background:radial-gradient(circle at 50% 50%,#2a3f9a 0 22%,#f6d53a 26% 46%,#1c9b4b 50%)"></div>
<div class="bar" style="left:487.5px;top:825.0px;width:61px;background:#3f1578;color:#fff">19.7</div>

<svg class="abs" style="left:19px;top:865px" width="28" height="22" viewBox="0 0 28 22">
<g fill="none" stroke="#111" stroke-width="2.1"><circle cx="8.6" cy="11.5" r="7.3"/><circle cx="18.4" cy="11.5" r="7.3"/></g>
<ellipse cx="13.5" cy="11.7" rx="3.7" ry="5.6" fill="#f1f1f1"/>
<path d="M4.6 5.6 C7 2.2 11.4 2.2 13.5 5.2 C15.6 2.2 20 2.2 22.4 5.6 C19.5 5.2 16 6.4 13.5 9.2 C11 6.4 7.5 5.2 4.6 5.6Z" fill="#111"/>
<path d="M5.8 13.4 C7.2 10.2 11.2 10.4 13.5 12.4 C15.8 10.4 19.8 10.2 21.2 13.4 C22.4 16 20.4 18 18.2 17.2 C17 19.6 15.4 20.6 13.5 20.6 C11.6 20.6 10 19.6 8.8 17.2 C6.6 18 4.6 16 5.8 13.4Z" fill="#111"/>
</svg>
<div id="vc">VISUAL CAPITALIST</div>
<div id="asof"><i>As of mid-year 2025</i></div>
<div class="abs" style="left:516px;top:875px;width:1px;height:11px;background:#777"></div>
<div id="source"><b><i>Source: Numbeo</i></b></div>
<div id="green"></div>
<svg class="abs" style="left:21px;top:901px" width="24" height="22" viewBox="0 0 24 22">
<path d="M3 3.2 L9.5 2 L11 8 L5.5 10.5 Z" fill="#f4d35e"/>
<path d="M9.5 2 L16 2.4 L15 8.5 L11 8 Z" fill="#b9dc6c"/>
<path d="M16 2.4 L21.5 3.6 C21 7 19 10.5 17 13.5 L15 8.5 Z" fill="#6cc47e"/>
<path d="M3 3.2 L5.5 10.5 L9.5 17.5 C6.5 14 3.8 9 2.4 4.6 Z" fill="#7ccbe8"/>
<path d="M5.5 10.5 L11 8 L15 8.5 L17 13.5 C15.5 15.8 13.5 18 12 19.5 C11 18.9 10.2 18.3 9.5 17.5 Z" fill="#2f9e6e"/>
<path d="M11 8 L15 8.5 L12.5 13 Z" fill="#dff0c8"/>
<path d="M3 3.2 C5 2.3 8 2 9.5 2 C12 1.9 19 2.4 21.5 3.6 C22.3 4.1 22.2 5 22 5.8 C20.5 11 16.5 16.5 12.9 19.6 C12.3 20.1 11.6 20.1 11 19.6 C7.5 16.5 3.8 10.5 2.2 5.2 C2 4.3 2.2 3.6 3 3.2 Z" fill="none" stroke="#fff" stroke-width="1.5" stroke-linejoin="round"/>
</svg>
<div id="voronoi">voronoi</div>
<div id="byvc">BY VISUAL CAPITALIST</div>
<div class="abs" style="left:117px;top:906px;width:1px;height:17px;background:rgba(255,255,255,0.55)"></div>
<div id="tagline">Where Data Tells the Story</div>
<div class="badge" style="left:455px;width:60px;">
<svg class="abs" style="left:5px;top:3.5px" width="10" height="12" viewBox="0 0 10 12"><path d="M7.3 6.3 C7.3 4.9 8.4 4.3 8.5 4.2 C7.8 3.3 6.9 3.2 6.5 3.2 C5.7 3.1 4.9 3.7 4.5 3.7 C4.1 3.7 3.4 3.2 2.8 3.2 C1.9 3.2 1.1 3.7 0.7 4.5 C-0.2 6.1 0.5 8.5 1.4 9.8 C1.8 10.4 2.3 11.1 3 11.1 C3.7 11.1 3.9 10.7 4.7 10.7 C5.5 10.7 5.7 11.1 6.4 11.1 C7.1 11.1 7.6 10.4 8 9.8 C8.5 9.1 8.7 8.4 8.7 8.4 C8.7 8.4 7.3 7.9 7.3 6.3 Z M6 2.2 C6.4 1.7 6.6 1.1 6.6 0.5 C6 0.5 5.4 0.9 5 1.3 C4.7 1.7 4.4 2.3 4.5 2.9 C5.1 2.9 5.7 2.6 6 2.2 Z" fill="#fff"/></svg>
<div class="b1" style="left:18px">Download on the</div><div class="b2" style="left:18px">App Store</div></div>
<div class="badge" style="left:524px;width:59.5px;">
<svg class="abs" style="left:5px;top:4px" width="10" height="11" viewBox="0 0 10 11"><path d="M0.5 0.3 L5.6 5.5 L0.5 10.7 Z" fill="#35c3f3"/><path d="M0.5 0.3 L7.2 4 L5.6 5.5 Z" fill="#3ddc84"/><path d="M0.5 10.7 L7.2 7 L5.6 5.5 Z" fill="#ea4335"/><path d="M7.2 4 L9.6 5.5 L7.2 7 L5.6 5.5 Z" fill="#fbbc04"/></svg>
<div class="b1" style="left:18px">GET IT ON</div><div class="b2" style="left:18px;letter-spacing:-0.35px">Google Play</div></div>

</div>
</body></html>
